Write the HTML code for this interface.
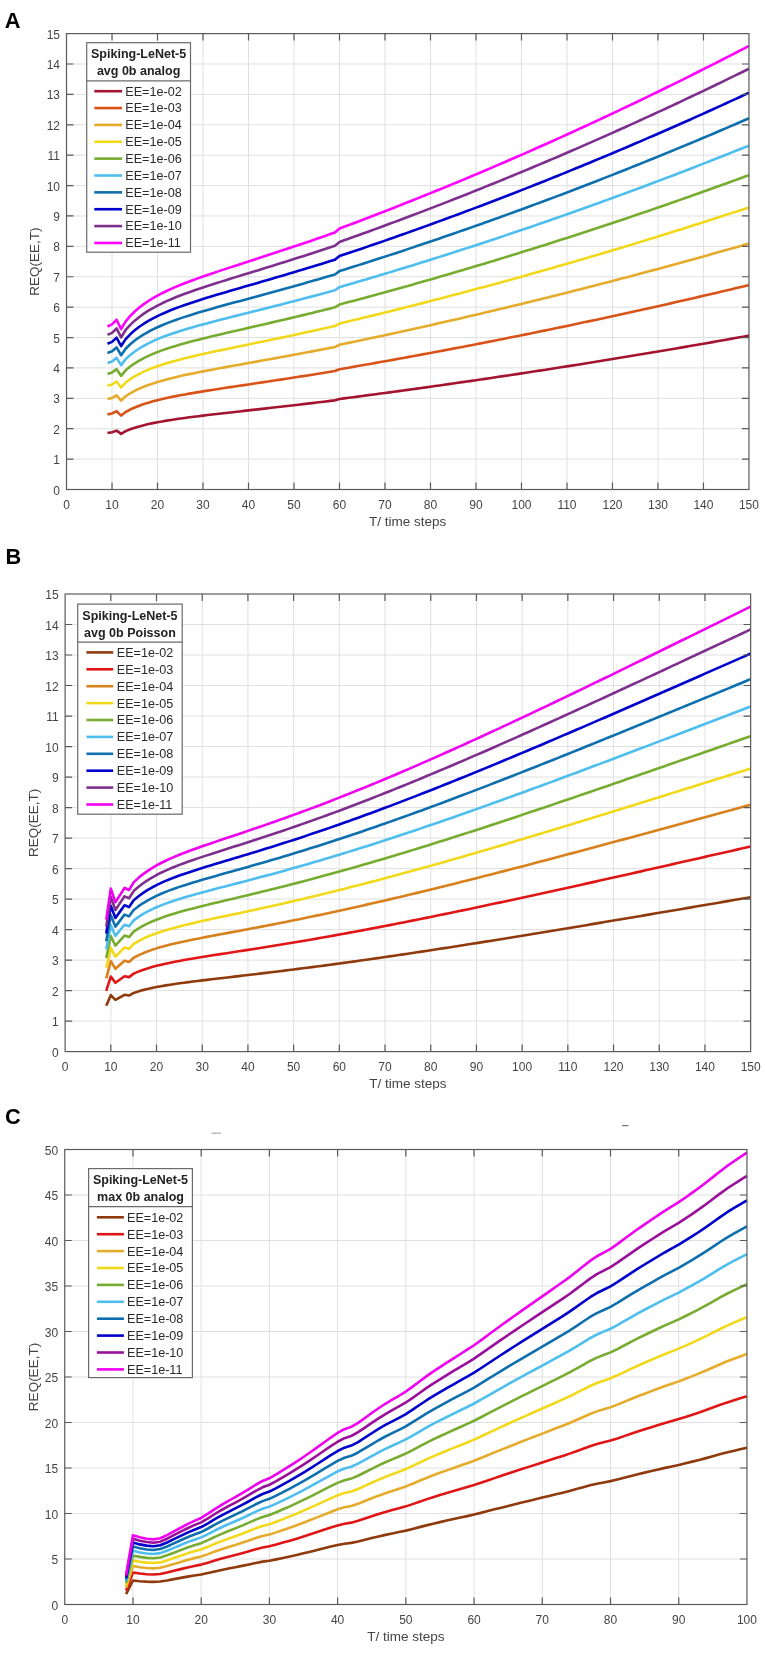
<!DOCTYPE html>
<html><head><meta charset="utf-8"><title>REQ(EE,T)</title>
<style>
html,body{margin:0;padding:0;background:#fff;}
body{width:765px;height:1653px;overflow:hidden;}
svg{display:block;filter:blur(0.4px);}
text{font-family:"Liberation Sans", sans-serif;}
.tk{font-size:12px;fill:#444444;}
.al{font-size:13.5px;fill:#444444;}
.lt{font-size:12.5px;font-weight:bold;fill:#222;}
.le{font-size:12.6px;fill:#2a2a2a;}
.pl{font-size:21.8px;font-weight:bold;fill:#000;}
</style></head>
<body>
<svg width="765" height="1653" viewBox="0 0 765 1653">
<rect width="765" height="1653" fill="#fff"/>
<path d="M112.02 33.6V489.5M157.51 33.6V489.5M203.01 33.6V489.5M248.5 33.6V489.5M294 33.6V489.5M339.5 33.6V489.5M384.99 33.6V489.5M430.49 33.6V489.5M475.98 33.6V489.5M521.48 33.6V489.5M566.98 33.6V489.5M612.47 33.6V489.5M657.97 33.6V489.5M703.46 33.6V489.5M66.52 459.11H748.96M66.52 428.71H748.96M66.52 398.32H748.96M66.52 367.93H748.96M66.52 337.53H748.96M66.52 307.14H748.96M66.52 276.75H748.96M66.52 246.35H748.96M66.52 215.96H748.96M66.52 185.57H748.96M66.52 155.17H748.96M66.52 124.78H748.96M66.52 94.39H748.96M66.52 63.99H748.96" stroke="#e0e0e0" stroke-width="1" fill="none"/>
<polyline points="107.47,432.94 112.02,432.23 116.57,430.6 121.12,433.86 125.66,431.17 130.21,429.31 134.76,427.76 139.31,426.4 143.86,425.19 148.41,424.11 152.96,423.13 157.51,422.23 162.06,421.41 166.61,420.63 171.16,419.91 175.71,419.22 180.26,418.56 184.81,417.94 189.36,417.33 193.91,416.75 198.46,416.18 203.01,415.62 207.56,415.07 212.11,414.54 216.66,414 221.21,413.48 225.76,412.96 230.31,412.44 234.86,411.93 239.4,411.42 243.95,410.91 248.5,410.4 253.05,409.88 257.6,409.37 262.15,408.86 266.7,408.35 271.25,407.83 275.8,407.31 280.35,406.79 284.9,406.27 289.45,405.75 294,405.22 298.55,404.69 303.1,404.16 307.65,403.63 312.2,403.09 316.75,402.55 321.3,402 325.85,401.45 330.4,400.9 334.95,400.35 339.5,398.97 344.05,398.38 348.6,397.79 353.14,397.2 357.69,396.6 362.24,396 366.79,395.4 371.34,394.79 375.89,394.19 380.44,393.58 384.99,392.96 389.54,392.35 394.09,391.73 398.64,391.11 403.19,390.49 407.74,389.86 412.29,389.24 416.84,388.61 421.39,387.97 425.94,387.34 430.49,386.7 435.04,386.06 439.59,385.42 444.14,384.77 448.69,384.12 453.24,383.47 457.79,382.82 462.34,382.16 466.88,381.5 471.43,380.84 475.98,380.18 480.53,379.51 485.08,378.84 489.63,378.17 494.18,377.5 498.73,376.82 503.28,376.14 507.83,375.46 512.38,374.78 516.93,374.09 521.48,373.4 526.03,372.71 530.58,372.01 535.13,371.31 539.68,370.62 544.23,369.91 548.78,369.21 553.33,368.5 557.88,367.79 562.43,367.08 566.98,366.36 571.53,365.64 576.08,364.92 580.62,364.2 585.17,363.47 589.72,362.75 594.27,362.02 598.82,361.28 603.37,360.55 607.92,359.81 612.47,359.07 617.02,358.32 621.57,357.58 626.12,356.83 630.67,356.08 635.22,355.32 639.77,354.57 644.32,353.81 648.87,353.04 653.42,352.28 657.97,351.51 662.52,350.74 667.07,349.97 671.62,349.2 676.17,348.42 680.72,347.64 685.27,346.86 689.82,346.07 694.36,345.28 698.91,344.49 703.46,343.7 708.01,342.91 712.56,342.11 717.11,341.31 721.66,340.51 726.21,339.7 730.76,338.89 735.31,338.08 739.86,337.27 744.41,336.45 748.96,335.63" fill="none" stroke="#a2142f" stroke-width="2.6" stroke-linejoin="round" stroke-linecap="butt"/>
<polyline points="107.47,414.36 112.02,413.42 116.57,411.26 121.12,415.58 125.66,412.01 130.21,409.54 134.76,407.48 139.31,405.68 143.86,404.07 148.41,402.64 152.96,401.34 157.51,400.15 162.06,399.05 166.61,398.02 171.16,397.05 175.71,396.14 180.26,395.27 184.81,394.44 189.36,393.63 193.91,392.86 198.46,392.1 203.01,391.36 207.56,390.63 212.11,389.92 216.66,389.21 221.21,388.52 225.76,387.83 230.31,387.14 234.86,386.46 239.4,385.78 243.95,385.1 248.5,384.42 253.05,383.74 257.6,383.06 262.15,382.38 266.7,381.7 271.25,381.01 275.8,380.33 280.35,379.64 284.9,378.94 289.45,378.25 294,377.55 298.55,376.84 303.1,376.14 307.65,375.43 312.2,374.71 316.75,373.99 321.3,373.27 325.85,372.54 330.4,371.81 334.95,371.07 339.5,369.24 344.05,368.46 348.6,367.67 353.14,366.89 357.69,366.09 362.24,365.3 366.79,364.5 371.34,363.69 375.89,362.89 380.44,362.08 384.99,361.26 389.54,360.45 394.09,359.63 398.64,358.8 403.19,357.98 407.74,357.15 412.29,356.31 416.84,355.48 421.39,354.64 425.94,353.79 430.49,352.94 435.04,352.09 439.59,351.24 444.14,350.38 448.69,349.52 453.24,348.65 457.79,347.79 462.34,346.92 466.88,346.04 471.43,345.16 475.98,344.28 480.53,343.4 485.08,342.51 489.63,341.61 494.18,340.72 498.73,339.82 503.28,338.92 507.83,338.01 512.38,337.1 516.93,336.19 521.48,335.27 526.03,334.36 530.58,333.43 535.13,332.51 539.68,331.58 544.23,330.64 548.78,329.71 553.33,328.77 557.88,327.82 562.43,326.88 566.98,325.93 571.53,324.97 576.08,324.02 580.62,323.05 585.17,322.09 589.72,321.12 594.27,320.15 598.82,319.18 603.37,318.2 607.92,317.22 612.47,316.23 617.02,315.25 621.57,314.26 626.12,313.26 630.67,312.26 635.22,311.26 639.77,310.26 644.32,309.25 648.87,308.24 653.42,307.22 657.97,306.2 662.52,305.18 667.07,304.15 671.62,303.12 676.17,302.09 680.72,301.06 685.27,300.02 689.82,298.97 694.36,297.93 698.91,296.88 703.46,295.83 708.01,294.77 712.56,293.71 717.11,292.65 721.66,291.58 726.21,290.51 730.76,289.44 735.31,288.36 739.86,287.28 744.41,286.19 748.96,285.11" fill="none" stroke="#d95319" stroke-width="2.6" stroke-linejoin="round" stroke-linecap="butt"/>
<polyline points="107.47,399.07 112.02,397.94 116.57,395.34 121.12,400.54 125.66,396.25 130.21,393.27 134.76,390.79 139.31,388.62 143.86,386.69 148.41,384.97 152.96,383.4 157.51,381.96 162.06,380.64 166.61,379.4 171.16,378.24 175.71,377.14 180.26,376.1 184.81,375.09 189.36,374.13 193.91,373.19 198.46,372.28 203.01,371.39 207.56,370.51 212.11,369.66 216.66,368.81 221.21,367.97 225.76,367.14 230.31,366.31 234.86,365.49 239.4,364.67 243.95,363.85 248.5,363.04 253.05,362.22 257.6,361.4 262.15,360.58 266.7,359.76 271.25,358.94 275.8,358.11 280.35,357.28 284.9,356.45 289.45,355.61 294,354.77 298.55,353.92 303.1,353.07 307.65,352.21 312.2,351.35 316.75,350.49 321.3,349.62 325.85,348.74 330.4,347.86 334.95,346.98 339.5,344.77 344.05,343.83 348.6,342.89 353.14,341.94 357.69,340.98 362.24,340.02 366.79,339.06 371.34,338.09 375.89,337.12 380.44,336.15 384.99,335.17 389.54,334.19 394.09,333.2 398.64,332.21 403.19,331.21 407.74,330.22 412.29,329.21 416.84,328.2 421.39,327.19 425.94,326.18 430.49,325.16 435.04,324.13 439.59,323.1 444.14,322.07 448.69,321.04 453.24,320 457.79,318.95 462.34,317.9 466.88,316.85 471.43,315.79 475.98,314.73 480.53,313.67 485.08,312.6 489.63,311.52 494.18,310.44 498.73,309.36 503.28,308.28 507.83,307.19 512.38,306.09 516.93,304.99 521.48,303.89 526.03,302.79 530.58,301.68 535.13,300.56 539.68,299.44 544.23,298.32 548.78,297.19 553.33,296.06 557.88,294.92 562.43,293.79 566.98,292.64 571.53,291.49 576.08,290.34 580.62,289.19 585.17,288.03 589.72,286.86 594.27,285.69 598.82,284.52 603.37,283.34 607.92,282.16 612.47,280.98 617.02,279.79 621.57,278.6 626.12,277.4 630.67,276.2 635.22,274.99 639.77,273.78 644.32,272.57 648.87,271.35 653.42,270.13 657.97,268.9 662.52,267.67 667.07,266.44 671.62,265.2 676.17,263.96 680.72,262.71 685.27,261.46 689.82,260.21 694.36,258.95 698.91,257.68 703.46,256.42 708.01,255.14 712.56,253.87 717.11,252.59 721.66,251.31 726.21,250.02 730.76,248.73 735.31,247.43 739.86,246.13 744.41,244.82 748.96,243.52" fill="none" stroke="#e5ab2b" stroke-width="2.6" stroke-linejoin="round" stroke-linecap="butt"/>
<polyline points="107.47,385.8 112.02,384.5 116.57,381.52 121.12,387.49 125.66,382.56 130.21,379.14 134.76,376.3 139.31,373.81 143.86,371.6 148.41,369.62 152.96,367.82 157.51,366.18 162.06,364.66 166.61,363.24 171.16,361.91 175.71,360.65 180.26,359.45 184.81,358.3 189.36,357.19 193.91,356.12 198.46,355.07 203.01,354.05 207.56,353.05 212.11,352.06 216.66,351.09 221.21,350.13 225.76,349.18 230.31,348.23 234.86,347.29 239.4,346.35 243.95,345.41 248.5,344.47 253.05,343.54 257.6,342.6 262.15,341.66 266.7,340.72 271.25,339.77 275.8,338.83 280.35,337.87 284.9,336.92 289.45,335.96 294,334.99 298.55,334.02 303.1,333.04 307.65,332.06 312.2,331.08 316.75,330.08 321.3,329.08 325.85,328.08 330.4,327.07 334.95,326.05 339.5,323.53 344.05,322.45 348.6,321.36 353.14,320.27 357.69,319.18 362.24,318.08 366.79,316.98 371.34,315.87 375.89,314.76 380.44,313.64 384.99,312.52 389.54,311.39 394.09,310.26 398.64,309.12 403.19,307.98 407.74,306.83 412.29,305.68 416.84,304.53 421.39,303.37 425.94,302.2 430.49,301.03 435.04,299.86 439.59,298.68 444.14,297.5 448.69,296.31 453.24,295.11 457.79,293.92 462.34,292.71 466.88,291.51 471.43,290.29 475.98,289.08 480.53,287.86 485.08,286.63 489.63,285.4 494.18,284.16 498.73,282.92 503.28,281.68 507.83,280.43 512.38,279.17 516.93,277.91 521.48,276.65 526.03,275.38 530.58,274.1 535.13,272.83 539.68,271.54 544.23,270.26 548.78,268.96 553.33,267.67 557.88,266.36 562.43,265.06 566.98,263.75 571.53,262.43 576.08,261.11 580.62,259.78 585.17,258.45 589.72,257.12 594.27,255.78 598.82,254.43 603.37,253.08 607.92,251.73 612.47,250.37 617.02,249.01 621.57,247.64 626.12,246.27 630.67,244.89 635.22,243.51 639.77,242.12 644.32,240.73 648.87,239.33 653.42,237.93 657.97,236.52 662.52,235.11 667.07,233.7 671.62,232.28 676.17,230.85 680.72,229.42 685.27,227.99 689.82,226.55 694.36,225.1 698.91,223.66 703.46,222.2 708.01,220.74 712.56,219.28 717.11,217.81 721.66,216.34 726.21,214.86 730.76,213.38 735.31,211.9 739.86,210.41 744.41,208.91 748.96,207.41" fill="none" stroke="#f1d91a" stroke-width="2.6" stroke-linejoin="round" stroke-linecap="butt"/>
<polyline points="107.47,373.92 112.02,372.48 116.57,369.16 121.12,375.8 125.66,370.31 130.21,366.5 134.76,363.33 139.31,360.56 143.86,358.1 148.41,355.89 152.96,353.89 157.51,352.06 162.06,350.36 166.61,348.78 171.16,347.3 175.71,345.89 180.26,344.56 184.81,343.27 189.36,342.04 193.91,340.84 198.46,339.68 203.01,338.54 207.56,337.42 212.11,336.32 216.66,335.24 221.21,334.17 225.76,333.1 230.31,332.05 234.86,331 239.4,329.95 243.95,328.91 248.5,327.86 253.05,326.82 257.6,325.77 262.15,324.73 266.7,323.68 271.25,322.62 275.8,321.57 280.35,320.51 284.9,319.44 289.45,318.37 294,317.29 298.55,316.21 303.1,315.12 307.65,314.03 312.2,312.93 316.75,311.82 321.3,310.71 325.85,309.59 330.4,308.47 334.95,307.33 339.5,304.52 344.05,303.31 348.6,302.11 353.14,300.89 357.69,299.67 362.24,298.45 366.79,297.22 371.34,295.98 375.89,294.74 380.44,293.5 384.99,292.25 389.54,290.99 394.09,289.73 398.64,288.46 403.19,287.19 407.74,285.91 412.29,284.63 416.84,283.34 421.39,282.05 425.94,280.75 430.49,279.45 435.04,278.14 439.59,276.82 444.14,275.5 448.69,274.18 453.24,272.85 457.79,271.51 462.34,270.17 466.88,268.83 471.43,267.48 475.98,266.12 480.53,264.76 485.08,263.39 489.63,262.02 494.18,260.64 498.73,259.26 503.28,257.87 507.83,256.48 512.38,255.08 516.93,253.68 521.48,252.27 526.03,250.85 530.58,249.43 535.13,248.01 539.68,246.58 544.23,245.14 548.78,243.7 553.33,242.26 557.88,240.81 562.43,239.35 566.98,237.89 571.53,236.42 576.08,234.95 580.62,233.47 585.17,231.99 589.72,230.5 594.27,229.01 598.82,227.51 603.37,226 607.92,224.5 612.47,222.98 617.02,221.46 621.57,219.94 626.12,218.41 630.67,216.87 635.22,215.33 639.77,213.78 644.32,212.23 648.87,210.68 653.42,209.11 657.97,207.55 662.52,205.97 667.07,204.4 671.62,202.81 676.17,201.23 680.72,199.63 685.27,198.03 689.82,196.43 694.36,194.82 698.91,193.21 703.46,191.59 708.01,189.96 712.56,188.33 717.11,186.7 721.66,185.05 726.21,183.41 730.76,181.76 735.31,180.1 739.86,178.44 744.41,176.77 748.96,175.1" fill="none" stroke="#77ac30" stroke-width="2.6" stroke-linejoin="round" stroke-linecap="butt"/>
<polyline points="107.47,363.08 112.02,361.5 116.57,357.87 121.12,365.14 125.66,359.13 130.21,354.97 134.76,351.5 139.31,348.46 143.86,345.77 148.41,343.36 152.96,341.17 157.51,339.16 162.06,337.31 166.61,335.58 171.16,333.96 175.71,332.42 180.26,330.96 184.81,329.56 189.36,328.2 193.91,326.9 198.46,325.62 203.01,324.38 207.56,323.15 212.11,321.95 216.66,320.77 221.21,319.6 225.76,318.43 230.31,317.28 234.86,316.13 239.4,314.98 243.95,313.84 248.5,312.7 253.05,311.56 257.6,310.42 262.15,309.27 266.7,308.12 271.25,306.97 275.8,305.81 280.35,304.65 284.9,303.49 289.45,302.32 294,301.14 298.55,299.96 303.1,298.77 307.65,297.57 312.2,296.37 316.75,295.16 321.3,293.94 325.85,292.72 330.4,291.48 334.95,290.24 339.5,287.17 344.05,285.85 348.6,284.53 353.14,283.2 357.69,281.87 362.24,280.53 366.79,279.18 371.34,277.83 375.89,276.47 380.44,275.11 384.99,273.74 389.54,272.37 394.09,270.99 398.64,269.6 403.19,268.21 407.74,266.81 412.29,265.41 416.84,264 421.39,262.59 425.94,261.17 430.49,259.74 435.04,258.31 439.59,256.87 444.14,255.43 448.69,253.98 453.24,252.53 457.79,251.07 462.34,249.6 466.88,248.13 471.43,246.65 475.98,245.17 480.53,243.68 485.08,242.18 489.63,240.68 494.18,239.17 498.73,237.66 503.28,236.14 507.83,234.62 512.38,233.09 516.93,231.55 521.48,230.01 526.03,228.47 530.58,226.91 535.13,225.36 539.68,223.79 544.23,222.22 548.78,220.65 553.33,219.06 557.88,217.48 562.43,215.88 566.98,214.28 571.53,212.68 576.08,211.07 580.62,209.45 585.17,207.83 589.72,206.2 594.27,204.57 598.82,202.93 603.37,201.29 607.92,199.64 612.47,197.98 617.02,196.32 621.57,194.65 626.12,192.98 630.67,191.3 635.22,189.61 639.77,187.92 644.32,186.22 648.87,184.52 653.42,182.81 657.97,181.1 662.52,179.38 667.07,177.65 671.62,175.92 676.17,174.18 680.72,172.44 685.27,170.69 689.82,168.94 694.36,167.18 698.91,165.41 703.46,163.64 708.01,161.86 712.56,160.08 717.11,158.29 721.66,156.5 726.21,154.69 730.76,152.89 735.31,151.08 739.86,149.26 744.41,147.43 748.96,145.61" fill="none" stroke="#4dbeee" stroke-width="2.6" stroke-linejoin="round" stroke-linecap="butt"/>
<polyline points="107.47,353.05 112.02,351.34 116.57,347.42 121.12,355.26 125.66,348.78 130.21,344.29 134.76,340.55 139.31,337.27 143.86,334.36 148.41,331.76 152.96,329.39 157.51,327.23 162.06,325.23 166.61,323.36 171.16,321.61 175.71,319.95 180.26,318.38 184.81,316.86 189.36,315.4 193.91,313.99 198.46,312.61 203.01,311.27 207.56,309.95 212.11,308.65 216.66,307.37 221.21,306.11 225.76,304.85 230.31,303.61 234.86,302.37 239.4,301.13 243.95,299.9 248.5,298.67 253.05,297.43 257.6,296.2 262.15,294.96 266.7,293.72 271.25,292.48 275.8,291.23 280.35,289.98 284.9,288.72 289.45,287.46 294,286.19 298.55,284.91 303.1,283.63 307.65,282.34 312.2,281.04 316.75,279.73 321.3,278.42 325.85,277.1 330.4,275.77 334.95,274.43 339.5,271.11 344.05,269.68 348.6,268.26 353.14,266.82 357.69,265.38 362.24,263.94 366.79,262.49 371.34,261.03 375.89,259.56 380.44,258.09 384.99,256.62 389.54,255.13 394.09,253.64 398.64,252.15 403.19,250.65 407.74,249.14 412.29,247.62 416.84,246.1 421.39,244.58 425.94,243.04 430.49,241.51 435.04,239.96 439.59,238.41 444.14,236.85 448.69,235.29 453.24,233.72 457.79,232.14 462.34,230.56 466.88,228.97 471.43,227.37 475.98,225.77 480.53,224.16 485.08,222.55 489.63,220.93 494.18,219.3 498.73,217.67 503.28,216.03 507.83,214.39 512.38,212.74 516.93,211.08 521.48,209.42 526.03,207.75 530.58,206.07 535.13,204.39 539.68,202.7 544.23,201.01 548.78,199.3 553.33,197.6 557.88,195.88 562.43,194.16 566.98,192.44 571.53,190.71 576.08,188.97 580.62,187.22 585.17,185.47 589.72,183.72 594.27,181.95 598.82,180.18 603.37,178.41 607.92,176.63 612.47,174.84 617.02,173.05 621.57,171.25 626.12,169.44 630.67,167.63 635.22,165.81 639.77,163.98 644.32,162.15 648.87,160.31 653.42,158.47 657.97,156.62 662.52,154.76 667.07,152.9 671.62,151.03 676.17,149.16 680.72,147.27 685.27,145.39 689.82,143.49 694.36,141.59 698.91,139.69 703.46,137.77 708.01,135.86 712.56,133.93 717.11,132 721.66,130.06 726.21,128.12 730.76,126.17 735.31,124.21 739.86,122.25 744.41,120.28 748.96,118.31" fill="none" stroke="#0e6fae" stroke-width="2.6" stroke-linejoin="round" stroke-linecap="butt"/>
<polyline points="107.47,343.67 112.02,341.84 116.57,337.65 121.12,346.04 125.66,339.11 130.21,334.31 134.76,330.31 139.31,326.8 143.86,323.7 148.41,320.91 152.96,318.39 157.51,316.07 162.06,313.94 166.61,311.94 171.16,310.07 175.71,308.3 180.26,306.61 184.81,304.99 189.36,303.43 193.91,301.92 198.46,300.45 203.01,299.02 207.56,297.61 212.11,296.22 216.66,294.85 221.21,293.5 225.76,292.16 230.31,290.83 234.86,289.5 239.4,288.18 243.95,286.87 248.5,285.55 253.05,284.23 257.6,282.91 262.15,281.59 266.7,280.27 271.25,278.94 275.8,277.6 280.35,276.26 284.9,274.92 289.45,273.57 294,272.21 298.55,270.85 303.1,269.47 307.65,268.09 312.2,266.71 316.75,265.31 321.3,263.91 325.85,262.49 330.4,261.07 334.95,259.64 339.5,256.09 344.05,254.57 348.6,253.05 353.14,251.52 357.69,249.98 362.24,248.43 366.79,246.88 371.34,245.32 375.89,243.76 380.44,242.18 384.99,240.61 389.54,239.02 394.09,237.43 398.64,235.83 403.19,234.23 407.74,232.61 412.29,231 416.84,229.37 421.39,227.74 425.94,226.1 430.49,224.46 435.04,222.81 439.59,221.15 444.14,219.48 448.69,217.81 453.24,216.13 457.79,214.45 462.34,212.76 466.88,211.06 471.43,209.35 475.98,207.64 480.53,205.92 485.08,204.2 489.63,202.47 494.18,200.73 498.73,198.99 503.28,197.23 507.83,195.48 512.38,193.71 516.93,191.94 521.48,190.16 526.03,188.38 530.58,186.59 535.13,184.79 539.68,182.98 544.23,181.17 548.78,179.36 553.33,177.53 557.88,175.7 562.43,173.86 566.98,172.02 571.53,170.17 576.08,168.31 580.62,166.44 585.17,164.57 589.72,162.7 594.27,160.81 598.82,158.92 603.37,157.02 607.92,155.12 612.47,153.21 617.02,151.29 621.57,149.37 626.12,147.44 630.67,145.5 635.22,143.55 639.77,141.6 644.32,139.65 648.87,137.68 653.42,135.71 657.97,133.73 662.52,131.75 667.07,129.76 671.62,127.76 676.17,125.76 680.72,123.75 685.27,121.73 689.82,119.71 694.36,117.68 698.91,115.64 703.46,113.59 708.01,111.54 712.56,109.49 717.11,107.42 721.66,105.35 726.21,103.28 730.76,101.19 735.31,99.1 739.86,97 744.41,94.9 748.96,92.79" fill="none" stroke="#0000cc" stroke-width="2.6" stroke-linejoin="round" stroke-linecap="butt"/>
<polyline points="107.47,334.83 112.02,332.89 116.57,328.45 121.12,337.34 125.66,329.99 130.21,324.9 134.76,320.66 139.31,316.94 143.86,313.65 148.41,310.69 152.96,308.02 157.51,305.56 162.06,303.3 166.61,301.18 171.16,299.2 175.71,297.32 180.26,295.53 184.81,293.81 189.36,292.16 193.91,290.55 198.46,289 203.01,287.47 207.56,285.98 212.11,284.51 216.66,283.06 221.21,281.62 225.76,280.2 230.31,278.79 234.86,277.38 239.4,275.98 243.95,274.58 248.5,273.19 253.05,271.79 257.6,270.39 262.15,268.99 266.7,267.59 271.25,266.18 275.8,264.76 280.35,263.34 284.9,261.92 289.45,260.48 294,259.04 298.55,257.59 303.1,256.14 307.65,254.68 312.2,253.2 316.75,251.72 321.3,250.23 325.85,248.74 330.4,247.23 334.95,245.71 339.5,241.95 344.05,240.34 348.6,238.72 353.14,237.09 357.69,235.46 362.24,233.82 366.79,232.18 371.34,230.52 375.89,228.86 380.44,227.2 384.99,225.52 389.54,223.84 394.09,222.15 398.64,220.46 403.19,218.76 407.74,217.05 412.29,215.33 416.84,213.61 421.39,211.88 425.94,210.14 430.49,208.39 435.04,206.64 439.59,204.88 444.14,203.12 448.69,201.34 453.24,199.56 457.79,197.78 462.34,195.98 466.88,194.18 471.43,192.37 475.98,190.56 480.53,188.74 485.08,186.91 489.63,185.07 494.18,183.23 498.73,181.38 503.28,179.52 507.83,177.66 512.38,175.78 516.93,173.91 521.48,172.02 526.03,170.13 530.58,168.23 535.13,166.32 539.68,164.41 544.23,162.49 548.78,160.56 553.33,158.62 557.88,156.68 562.43,154.73 566.98,152.78 571.53,150.81 576.08,148.84 580.62,146.87 585.17,144.88 589.72,142.89 594.27,140.89 598.82,138.89 603.37,136.87 607.92,134.85 612.47,132.83 617.02,130.79 621.57,128.75 626.12,126.7 630.67,124.65 635.22,122.59 639.77,120.52 644.32,118.44 648.87,116.36 653.42,114.27 657.97,112.17 662.52,110.07 667.07,107.96 671.62,105.84 676.17,103.71 680.72,101.58 685.27,99.44 689.82,97.29 694.36,95.14 698.91,92.98 703.46,90.81 708.01,88.64 712.56,86.46 717.11,84.27 721.66,82.07 726.21,79.87 730.76,77.66 735.31,75.44 739.86,73.22 744.41,70.99 748.96,68.75" fill="none" stroke="#7e2f8e" stroke-width="2.6" stroke-linejoin="round" stroke-linecap="butt"/>
<polyline points="107.47,326.45 112.02,324.41 116.57,319.72 121.12,329.1 125.66,321.35 130.21,315.98 134.76,311.51 139.31,307.59 143.86,304.12 148.41,301.01 152.96,298.18 157.51,295.6 162.06,293.21 166.61,290.98 171.16,288.88 175.71,286.9 180.26,285.02 184.81,283.21 189.36,281.46 193.91,279.77 198.46,278.13 203.01,276.52 207.56,274.95 212.11,273.4 216.66,271.87 221.21,270.36 225.76,268.86 230.31,267.37 234.86,265.89 239.4,264.41 243.95,262.94 248.5,261.47 253.05,259.99 257.6,258.52 262.15,257.04 266.7,255.56 271.25,254.07 275.8,252.58 280.35,251.09 284.9,249.58 289.45,248.07 294,246.55 298.55,245.03 303.1,243.49 307.65,241.95 312.2,240.4 316.75,238.84 321.3,237.27 325.85,235.69 330.4,234.1 334.95,232.5 339.5,228.53 344.05,226.83 348.6,225.13 353.14,223.42 357.69,221.7 362.24,219.97 366.79,218.23 371.34,216.49 375.89,214.74 380.44,212.98 384.99,211.22 389.54,209.45 394.09,207.67 398.64,205.88 403.19,204.08 407.74,202.28 412.29,200.47 416.84,198.66 421.39,196.83 425.94,195 430.49,193.16 435.04,191.31 439.59,189.46 444.14,187.6 448.69,185.73 453.24,183.85 457.79,181.97 462.34,180.08 466.88,178.18 471.43,176.27 475.98,174.36 480.53,172.44 485.08,170.51 489.63,168.58 494.18,166.63 498.73,164.68 503.28,162.72 507.83,160.76 512.38,158.79 516.93,156.81 521.48,154.82 526.03,152.82 530.58,150.82 535.13,148.81 539.68,146.79 544.23,144.77 548.78,142.73 553.33,140.69 557.88,138.65 562.43,136.59 566.98,134.53 571.53,132.46 576.08,130.38 580.62,128.3 585.17,126.21 589.72,124.11 594.27,122 598.82,119.89 603.37,117.77 607.92,115.64 612.47,113.5 617.02,111.36 621.57,109.2 626.12,107.05 630.67,104.88 635.22,102.71 639.77,100.52 644.32,98.34 648.87,96.14 653.42,93.94 657.97,91.73 662.52,89.51 667.07,87.28 671.62,85.05 676.17,82.81 680.72,80.56 685.27,78.31 689.82,76.04 694.36,73.77 698.91,71.49 703.46,69.21 708.01,66.92 712.56,64.62 717.11,62.31 721.66,59.99 726.21,57.67 730.76,55.34 735.31,53.01 739.86,50.66 744.41,48.31 748.96,45.95" fill="none" stroke="#ff00ff" stroke-width="2.6" stroke-linejoin="round" stroke-linecap="butt"/>
<rect x="66.52" y="33.6" width="682.44" height="455.9" fill="none" stroke="#5a5a5a" stroke-width="1.2"/>
<path d="M112.02 489.5v-7M112.02 33.6v7M157.51 489.5v-7M157.51 33.6v7M203.01 489.5v-7M203.01 33.6v7M248.5 489.5v-7M248.5 33.6v7M294 489.5v-7M294 33.6v7M339.5 489.5v-7M339.5 33.6v7M384.99 489.5v-7M384.99 33.6v7M430.49 489.5v-7M430.49 33.6v7M475.98 489.5v-7M475.98 33.6v7M521.48 489.5v-7M521.48 33.6v7M566.98 489.5v-7M566.98 33.6v7M612.47 489.5v-7M612.47 33.6v7M657.97 489.5v-7M657.97 33.6v7M703.46 489.5v-7M703.46 33.6v7M66.52 459.11h7M748.96 459.11h-7M66.52 428.71h7M748.96 428.71h-7M66.52 398.32h7M748.96 398.32h-7M66.52 367.93h7M748.96 367.93h-7M66.52 337.53h7M748.96 337.53h-7M66.52 307.14h7M748.96 307.14h-7M66.52 276.75h7M748.96 276.75h-7M66.52 246.35h7M748.96 246.35h-7M66.52 215.96h7M748.96 215.96h-7M66.52 185.57h7M748.96 185.57h-7M66.52 155.17h7M748.96 155.17h-7M66.52 124.78h7M748.96 124.78h-7M66.52 94.39h7M748.96 94.39h-7M66.52 63.99h7M748.96 63.99h-7" stroke="#5a5a5a" stroke-width="1.2" fill="none"/>
<text x="66.52" y="509" text-anchor="middle" class="tk">0</text>
<text x="112.02" y="509" text-anchor="middle" class="tk">10</text>
<text x="157.51" y="509" text-anchor="middle" class="tk">20</text>
<text x="203.01" y="509" text-anchor="middle" class="tk">30</text>
<text x="248.5" y="509" text-anchor="middle" class="tk">40</text>
<text x="294" y="509" text-anchor="middle" class="tk">50</text>
<text x="339.5" y="509" text-anchor="middle" class="tk">60</text>
<text x="384.99" y="509" text-anchor="middle" class="tk">70</text>
<text x="430.49" y="509" text-anchor="middle" class="tk">80</text>
<text x="475.98" y="509" text-anchor="middle" class="tk">90</text>
<text x="521.48" y="509" text-anchor="middle" class="tk">100</text>
<text x="566.98" y="509" text-anchor="middle" class="tk">110</text>
<text x="612.47" y="509" text-anchor="middle" class="tk">120</text>
<text x="657.97" y="509" text-anchor="middle" class="tk">130</text>
<text x="703.46" y="509" text-anchor="middle" class="tk">140</text>
<text x="748.96" y="509" text-anchor="middle" class="tk">150</text>
<text x="60.02" y="494.6" text-anchor="end" class="tk">0</text>
<text x="60.02" y="464.21" text-anchor="end" class="tk">1</text>
<text x="60.02" y="433.81" text-anchor="end" class="tk">2</text>
<text x="60.02" y="403.42" text-anchor="end" class="tk">3</text>
<text x="60.02" y="373.03" text-anchor="end" class="tk">4</text>
<text x="60.02" y="342.63" text-anchor="end" class="tk">5</text>
<text x="60.02" y="312.24" text-anchor="end" class="tk">6</text>
<text x="60.02" y="281.85" text-anchor="end" class="tk">7</text>
<text x="60.02" y="251.45" text-anchor="end" class="tk">8</text>
<text x="60.02" y="221.06" text-anchor="end" class="tk">9</text>
<text x="60.02" y="190.67" text-anchor="end" class="tk">10</text>
<text x="60.02" y="160.27" text-anchor="end" class="tk">11</text>
<text x="60.02" y="129.88" text-anchor="end" class="tk">12</text>
<text x="60.02" y="99.49" text-anchor="end" class="tk">13</text>
<text x="60.02" y="69.09" text-anchor="end" class="tk">14</text>
<text x="60.02" y="38.7" text-anchor="end" class="tk">15</text>
<text x="407.74" y="526" text-anchor="middle" class="al">T/ time steps</text>
<text transform="translate(39.4 261.55) rotate(-90)" text-anchor="middle" class="al">REQ(EE,T)</text>
<rect x="86.7" y="42.7" width="103.8" height="209.5" fill="#fff" stroke="#6a6a6a" stroke-width="1.2"/>
<path d="M86.7 80.8H190.5" stroke="#6a6a6a" stroke-width="1.2"/>
<text x="138.6" y="57.7" text-anchor="middle" class="lt">Spiking-LeNet-5</text>
<text x="138.6" y="74.7" text-anchor="middle" class="lt">avg 0b analog</text>
<path d="M94.3 91.2H122.1" stroke="#a2142f" stroke-width="2.6"/>
<text x="125.3" y="95.6" class="le">EE=1e-02</text>
<path d="M94.3 108.06H122.1" stroke="#d95319" stroke-width="2.6"/>
<text x="125.3" y="112.46" class="le">EE=1e-03</text>
<path d="M94.3 124.92H122.1" stroke="#e5ab2b" stroke-width="2.6"/>
<text x="125.3" y="129.32" class="le">EE=1e-04</text>
<path d="M94.3 141.78H122.1" stroke="#f1d91a" stroke-width="2.6"/>
<text x="125.3" y="146.18" class="le">EE=1e-05</text>
<path d="M94.3 158.64H122.1" stroke="#77ac30" stroke-width="2.6"/>
<text x="125.3" y="163.04" class="le">EE=1e-06</text>
<path d="M94.3 175.5H122.1" stroke="#4dbeee" stroke-width="2.6"/>
<text x="125.3" y="179.9" class="le">EE=1e-07</text>
<path d="M94.3 192.36H122.1" stroke="#0e6fae" stroke-width="2.6"/>
<text x="125.3" y="196.76" class="le">EE=1e-08</text>
<path d="M94.3 209.22H122.1" stroke="#0000cc" stroke-width="2.6"/>
<text x="125.3" y="213.62" class="le">EE=1e-09</text>
<path d="M94.3 226.08H122.1" stroke="#7e2f8e" stroke-width="2.6"/>
<text x="125.3" y="230.48" class="le">EE=1e-10</text>
<path d="M94.3 242.94H122.1" stroke="#ff00ff" stroke-width="2.6"/>
<text x="125.3" y="247.34" class="le">EE=1e-11</text>
<text x="4.8" y="27.8" class="pl">A</text>
<path d="M110.82 594V1051.6M156.52 594V1051.6M202.23 594V1051.6M247.93 594V1051.6M293.63 594V1051.6M339.33 594V1051.6M385.03 594V1051.6M430.74 594V1051.6M476.44 594V1051.6M522.14 594V1051.6M567.84 594V1051.6M613.54 594V1051.6M659.25 594V1051.6M704.95 594V1051.6M65.12 1021.09H750.65M65.12 990.59H750.65M65.12 960.08H750.65M65.12 929.57H750.65M65.12 899.07H750.65M65.12 868.56H750.65M65.12 838.05H750.65M65.12 807.55H750.65M65.12 777.04H750.65M65.12 746.53H750.65M65.12 716.03H750.65M65.12 685.52H750.65M65.12 655.01H750.65M65.12 624.51H750.65" stroke="#e0e0e0" stroke-width="1" fill="none"/>
<polyline points="106.25,1005.83 110.82,995.04 115.39,999.79 119.96,997.31 124.53,994.83 129.1,995.54 133.67,992.9 138.24,991.42 142.81,990.12 147.38,988.98 151.95,987.95 156.52,987.03 161.09,986.18 165.66,985.4 170.23,984.67 174.8,983.98 179.38,983.33 183.95,982.7 188.52,982.1 193.09,981.51 197.66,980.95 202.23,980.39 206.8,979.84 211.37,979.3 215.94,978.76 220.51,978.23 225.08,977.7 229.65,977.17 234.22,976.64 238.79,976.1 243.36,975.57 247.93,975.04 252.5,974.5 257.07,973.96 261.64,973.41 266.21,972.86 270.78,972.31 275.35,971.76 279.92,971.2 284.49,970.63 289.06,970.06 293.63,969.49 298.2,968.91 302.77,968.33 307.34,967.74 311.91,967.14 316.48,966.55 321.05,965.94 325.62,965.34 330.19,964.73 334.76,964.11 339.33,963.49 343.9,962.86 348.47,962.23 353.04,961.6 357.61,960.96 362.18,960.32 366.75,959.67 371.32,959.02 375.89,958.37 380.46,957.71 385.03,957.05 389.6,956.38 394.17,955.71 398.74,955.04 403.31,954.36 407.88,953.68 412.46,953 417.03,952.31 421.6,951.62 426.17,950.93 430.74,950.23 435.31,949.53 439.88,948.83 444.45,948.12 449.02,947.41 453.59,946.7 458.16,945.99 462.73,945.27 467.3,944.55 471.87,943.83 476.44,943.11 481.01,942.38 485.58,941.65 490.15,940.92 494.72,940.19 499.29,939.45 503.86,938.72 508.43,937.98 513,937.24 517.57,936.49 522.14,935.75 526.71,935 531.28,934.25 535.85,933.5 540.42,932.75 544.99,932 549.56,931.24 554.13,930.49 558.7,929.73 563.27,928.97 567.84,928.21 572.41,927.45 576.98,926.69 581.55,925.93 586.12,925.16 590.69,924.39 595.26,923.63 599.83,922.86 604.4,922.09 608.97,921.32 613.54,920.55 618.11,919.78 622.68,919.01 627.25,918.24 631.82,917.46 636.39,916.69 640.97,915.91 645.54,915.14 650.11,914.36 654.68,913.59 659.25,912.81 663.82,912.03 668.39,911.25 672.96,910.47 677.53,909.7 682.1,908.92 686.67,908.14 691.24,907.36 695.81,906.58 700.38,905.8 704.95,905.02 709.52,904.24 714.09,903.46 718.66,902.68 723.23,901.9 727.8,901.12 732.37,900.34 736.94,899.56 741.51,898.78 746.08,898 750.65,897.22" fill="none" stroke="#8f3a0c" stroke-width="2.6" stroke-linejoin="round" stroke-linecap="butt"/>
<polyline points="106.25,990.79 110.82,976.47 115.39,982.78 119.96,979.48 124.53,976.18 129.1,977.13 133.67,973.62 138.24,971.65 142.81,969.93 147.38,968.41 151.95,967.06 156.52,965.83 161.09,964.7 165.66,963.66 170.23,962.69 174.8,961.77 179.38,960.91 183.95,960.08 188.52,959.28 193.09,958.5 197.66,957.74 202.23,957 206.8,956.28 211.37,955.56 215.94,954.84 220.51,954.13 225.08,953.43 229.65,952.72 234.22,952.02 238.79,951.31 243.36,950.61 247.93,949.89 252.5,949.18 257.07,948.46 261.64,947.74 266.21,947.01 270.78,946.28 275.35,945.54 279.92,944.79 284.49,944.04 289.06,943.29 293.63,942.52 298.2,941.75 302.77,940.98 307.34,940.2 311.91,939.41 316.48,938.62 321.05,937.82 325.62,937.01 330.19,936.2 334.76,935.38 339.33,934.56 343.9,933.73 348.47,932.89 353.04,932.05 357.61,931.2 362.18,930.35 366.75,929.49 371.32,928.62 375.89,927.75 380.46,926.88 385.03,926 389.6,925.11 394.17,924.22 398.74,923.33 403.31,922.43 407.88,921.53 412.46,920.62 417.03,919.71 421.6,918.79 426.17,917.87 430.74,916.94 435.31,916.01 439.88,915.08 444.45,914.14 449.02,913.2 453.59,912.26 458.16,911.31 462.73,910.36 467.3,909.4 471.87,908.44 476.44,907.48 481.01,906.51 485.58,905.55 490.15,904.58 494.72,903.6 499.29,902.63 503.86,901.65 508.43,900.67 513,899.68 517.57,898.69 522.14,897.7 526.71,896.71 531.28,895.72 535.85,894.72 540.42,893.72 544.99,892.72 549.56,891.72 554.13,890.72 558.7,889.71 563.27,888.7 567.84,887.69 572.41,886.68 576.98,885.67 581.55,884.66 586.12,883.64 590.69,882.62 595.26,881.61 599.83,880.59 604.4,879.56 608.97,878.54 613.54,877.52 618.11,876.49 622.68,875.47 627.25,874.44 631.82,873.41 636.39,872.39 640.97,871.36 645.54,870.33 650.11,869.3 654.68,868.26 659.25,867.23 663.82,866.2 668.39,865.17 672.96,864.13 677.53,863.1 682.1,862.06 686.67,861.03 691.24,859.99 695.81,858.96 700.38,857.92 704.95,856.89 709.52,855.85 714.09,854.81 718.66,853.78 723.23,852.74 727.8,851.7 732.37,850.67 736.94,849.63 741.51,848.6 746.08,847.56 750.65,846.52" fill="none" stroke="#e01515" stroke-width="2.6" stroke-linejoin="round" stroke-linecap="butt"/>
<polyline points="106.25,978.42 110.82,961.18 115.39,968.78 119.96,964.81 124.53,960.84 129.1,961.97 133.67,957.75 138.24,955.39 142.81,953.32 147.38,951.49 151.95,949.85 156.52,948.37 161.09,947.02 165.66,945.76 170.23,944.6 174.8,943.5 179.38,942.45 183.95,941.45 188.52,940.49 193.09,939.56 197.66,938.65 202.23,937.76 206.8,936.88 211.37,936.01 215.94,935.15 220.51,934.3 225.08,933.45 229.65,932.6 234.22,931.76 238.79,930.91 243.36,930.05 247.93,929.2 252.5,928.34 257.07,927.47 261.64,926.6 266.21,925.73 270.78,924.85 275.35,923.96 279.92,923.06 284.49,922.16 289.06,921.25 293.63,920.33 298.2,919.4 302.77,918.47 307.34,917.53 311.91,916.58 316.48,915.63 321.05,914.66 325.62,913.69 330.19,912.72 334.76,911.73 339.33,910.74 343.9,909.74 348.47,908.73 353.04,907.72 357.61,906.7 362.18,905.67 366.75,904.64 371.32,903.6 375.89,902.55 380.46,901.5 385.03,900.44 389.6,899.38 394.17,898.31 398.74,897.23 403.31,896.15 407.88,895.06 412.46,893.97 417.03,892.87 421.6,891.76 426.17,890.65 430.74,889.54 435.31,888.42 439.88,887.3 444.45,886.17 449.02,885.04 453.59,883.9 458.16,882.76 462.73,881.61 467.3,880.46 471.87,879.31 476.44,878.15 481.01,876.99 485.58,875.83 490.15,874.66 494.72,873.49 499.29,872.31 503.86,871.13 508.43,869.95 513,868.77 517.57,867.58 522.14,866.39 526.71,865.2 531.28,864 535.85,862.8 540.42,861.6 544.99,860.4 549.56,859.19 554.13,857.98 558.7,856.77 563.27,855.56 567.84,854.34 572.41,853.13 576.98,851.91 581.55,850.69 586.12,849.46 590.69,848.24 595.26,847.01 599.83,845.79 604.4,844.56 608.97,843.33 613.54,842.1 618.11,840.86 622.68,839.63 627.25,838.39 631.82,837.16 636.39,835.92 640.97,834.68 645.54,833.44 650.11,832.2 654.68,830.96 659.25,829.72 663.82,828.47 668.39,827.23 672.96,825.99 677.53,824.74 682.1,823.5 686.67,822.25 691.24,821.01 695.81,819.76 700.38,818.51 704.95,817.27 709.52,816.02 714.09,814.77 718.66,813.52 723.23,812.28 727.8,811.03 732.37,809.78 736.94,808.53 741.51,807.29 746.08,806.04 750.65,804.79" fill="none" stroke="#d8801c" stroke-width="2.6" stroke-linejoin="round" stroke-linecap="butt"/>
<polyline points="106.25,967.68 110.82,947.9 115.39,956.62 119.96,952.07 124.53,947.51 129.1,948.81 133.67,943.98 138.24,941.26 142.81,938.89 147.38,936.79 151.95,934.92 156.52,933.22 161.09,931.67 165.66,930.23 170.23,928.89 174.8,927.63 179.38,926.43 183.95,925.28 188.52,924.18 193.09,923.11 197.66,922.07 202.23,921.04 206.8,920.04 211.37,919.05 215.94,918.06 220.51,917.08 225.08,916.11 229.65,915.14 234.22,914.16 238.79,913.19 243.36,912.21 247.93,911.23 252.5,910.25 257.07,909.25 261.64,908.26 266.21,907.25 270.78,906.24 275.35,905.22 279.92,904.19 284.49,903.16 289.06,902.11 293.63,901.06 298.2,900 302.77,898.93 307.34,897.85 311.91,896.76 316.48,895.67 321.05,894.56 325.62,893.45 330.19,892.33 334.76,891.2 339.33,890.06 343.9,888.92 348.47,887.76 353.04,886.6 357.61,885.43 362.18,884.25 366.75,883.07 371.32,881.88 375.89,880.68 380.46,879.47 385.03,878.25 389.6,877.03 394.17,875.8 398.74,874.57 403.31,873.33 407.88,872.08 412.46,870.83 417.03,869.57 421.6,868.3 426.17,867.03 430.74,865.75 435.31,864.47 439.88,863.18 444.45,861.89 449.02,860.59 453.59,859.29 458.16,857.98 462.73,856.66 467.3,855.34 471.87,854.02 476.44,852.69 481.01,851.36 485.58,850.03 490.15,848.69 494.72,847.34 499.29,846 503.86,844.64 508.43,843.29 513,841.93 517.57,840.57 522.14,839.2 526.71,837.83 531.28,836.46 535.85,835.09 540.42,833.71 544.99,832.33 549.56,830.95 554.13,829.56 558.7,828.17 563.27,826.78 567.84,825.39 572.41,823.99 576.98,822.6 581.55,821.2 586.12,819.79 590.69,818.39 595.26,816.98 599.83,815.58 604.4,814.17 608.97,812.76 613.54,811.34 618.11,809.93 622.68,808.51 627.25,807.1 631.82,805.68 636.39,804.26 640.97,802.84 645.54,801.42 650.11,800 654.68,798.57 659.25,797.15 663.82,795.72 668.39,794.3 672.96,792.87 677.53,791.44 682.1,790.01 686.67,788.59 691.24,787.16 695.81,785.73 700.38,784.3 704.95,782.87 709.52,781.44 714.09,780.01 718.66,778.58 723.23,777.15 727.8,775.72 732.37,774.29 736.94,772.86 741.51,771.43 746.08,770 750.65,768.57" fill="none" stroke="#f1d91a" stroke-width="2.6" stroke-linejoin="round" stroke-linecap="butt"/>
<polyline points="106.25,958.07 110.82,936.03 115.39,945.74 119.96,940.67 124.53,935.59 129.1,937.04 133.67,931.65 138.24,928.62 142.81,925.98 147.38,923.64 151.95,921.55 156.52,919.66 161.09,917.93 165.66,916.33 170.23,914.83 174.8,913.43 179.38,912.09 183.95,910.82 188.52,909.58 193.09,908.39 197.66,907.23 202.23,906.09 206.8,904.97 211.37,903.86 215.94,902.77 220.51,901.68 225.08,900.59 229.65,899.51 234.22,898.42 238.79,897.34 243.36,896.25 247.93,895.15 252.5,894.06 257.07,892.95 261.64,891.84 266.21,890.72 270.78,889.59 275.35,888.45 279.92,887.31 284.49,886.15 289.06,884.99 293.63,883.82 298.2,882.63 302.77,881.44 307.34,880.24 311.91,879.03 316.48,877.81 321.05,876.58 325.62,875.34 330.19,874.09 334.76,872.83 339.33,871.56 343.9,870.28 348.47,869 353.04,867.7 357.61,866.4 362.18,865.09 366.75,863.76 371.32,862.44 375.89,861.1 380.46,859.75 385.03,858.4 389.6,857.04 394.17,855.67 398.74,854.29 403.31,852.91 407.88,851.52 412.46,850.12 417.03,848.72 421.6,847.31 426.17,845.89 430.74,844.47 435.31,843.04 439.88,841.6 444.45,840.16 449.02,838.71 453.59,837.26 458.16,835.8 462.73,834.33 467.3,832.87 471.87,831.39 476.44,829.91 481.01,828.43 485.58,826.94 490.15,825.45 494.72,823.95 499.29,822.45 503.86,820.94 508.43,819.43 513,817.92 517.57,816.4 522.14,814.88 526.71,813.35 531.28,811.82 535.85,810.29 540.42,808.75 544.99,807.22 549.56,805.67 554.13,804.13 558.7,802.58 563.27,801.03 567.84,799.48 572.41,797.92 576.98,796.37 581.55,794.8 586.12,793.24 590.69,791.68 595.26,790.11 599.83,788.54 604.4,786.97 608.97,785.4 613.54,783.82 618.11,782.25 622.68,780.67 627.25,779.09 631.82,777.51 636.39,775.93 640.97,774.35 645.54,772.76 650.11,771.18 654.68,769.59 659.25,768 663.82,766.41 668.39,764.82 672.96,763.23 677.53,761.64 682.1,760.05 686.67,758.46 691.24,756.87 695.81,755.28 700.38,753.68 704.95,752.09 709.52,750.49 714.09,748.9 718.66,747.31 723.23,745.71 727.8,744.12 732.37,742.52 736.94,740.93 741.51,739.33 746.08,737.74 750.65,736.15" fill="none" stroke="#77ac30" stroke-width="2.6" stroke-linejoin="round" stroke-linecap="butt"/>
<polyline points="106.25,949.29 110.82,925.19 115.39,935.81 119.96,930.26 124.53,924.71 129.1,926.3 133.67,920.4 138.24,917.09 142.81,914.2 147.38,911.64 151.95,909.35 156.52,907.28 161.09,905.39 165.66,903.64 170.23,902 174.8,900.47 179.38,899.01 183.95,897.61 188.52,896.26 193.09,894.96 197.66,893.69 202.23,892.44 206.8,891.21 211.37,890 215.94,888.8 220.51,887.61 225.08,886.43 229.65,885.24 234.22,884.05 238.79,882.87 243.36,881.68 247.93,880.48 252.5,879.28 257.07,878.07 261.64,876.85 266.21,875.63 270.78,874.39 275.35,873.15 279.92,871.9 284.49,870.63 289.06,869.36 293.63,868.08 298.2,866.78 302.77,865.48 307.34,864.17 311.91,862.84 316.48,861.5 321.05,860.16 325.62,858.8 330.19,857.44 334.76,856.06 339.33,854.67 343.9,853.27 348.47,851.87 353.04,850.45 357.61,849.02 362.18,847.59 366.75,846.14 371.32,844.69 375.89,843.23 380.46,841.76 385.03,840.28 389.6,838.79 394.17,837.29 398.74,835.78 403.31,834.27 407.88,832.75 412.46,831.22 417.03,829.69 421.6,828.14 426.17,826.59 430.74,825.04 435.31,823.47 439.88,821.9 444.45,820.32 449.02,818.74 453.59,817.15 458.16,815.56 462.73,813.95 467.3,812.35 471.87,810.73 476.44,809.12 481.01,807.49 485.58,805.86 490.15,804.23 494.72,802.59 499.29,800.95 503.86,799.3 508.43,797.65 513,795.99 517.57,794.33 522.14,792.67 526.71,791 531.28,789.33 535.85,787.65 540.42,785.97 544.99,784.29 549.56,782.6 554.13,780.91 558.7,779.22 563.27,777.53 567.84,775.83 572.41,774.13 576.98,772.42 581.55,770.72 586.12,769.01 590.69,767.3 595.26,765.58 599.83,763.87 604.4,762.15 608.97,760.43 613.54,758.71 618.11,756.98 622.68,755.26 627.25,753.53 631.82,751.8 636.39,750.07 640.97,748.34 645.54,746.61 650.11,744.87 654.68,743.14 659.25,741.4 663.82,739.66 668.39,737.92 672.96,736.18 677.53,734.44 682.1,732.7 686.67,730.96 691.24,729.22 695.81,727.48 700.38,725.74 704.95,723.99 709.52,722.25 714.09,720.51 718.66,718.76 723.23,717.02 727.8,715.27 732.37,713.53 736.94,711.79 741.51,710.04 746.08,708.3 750.65,706.56" fill="none" stroke="#4dbeee" stroke-width="2.6" stroke-linejoin="round" stroke-linecap="butt"/>
<polyline points="106.25,941.17 110.82,915.15 115.39,926.62 119.96,920.63 124.53,914.64 129.1,916.35 133.67,909.99 138.24,906.41 142.81,903.29 147.38,900.53 151.95,898.06 156.52,895.83 161.09,893.78 165.66,891.89 170.23,890.13 174.8,888.47 179.38,886.89 183.95,885.39 188.52,883.93 193.09,882.52 197.66,881.15 202.23,879.81 206.8,878.48 211.37,877.18 215.94,875.88 220.51,874.6 225.08,873.31 229.65,872.03 234.22,870.75 238.79,869.47 243.36,868.19 247.93,866.9 252.5,865.6 257.07,864.29 261.64,862.98 266.21,861.66 270.78,860.33 275.35,858.98 279.92,857.63 284.49,856.27 289.06,854.9 293.63,853.51 298.2,852.11 302.77,850.71 307.34,849.29 311.91,847.86 316.48,846.42 321.05,844.96 325.62,843.5 330.19,842.02 334.76,840.54 339.33,839.04 343.9,837.53 348.47,836.01 353.04,834.48 357.61,832.95 362.18,831.4 366.75,829.84 371.32,828.27 375.89,826.69 380.46,825.1 385.03,823.5 389.6,821.89 394.17,820.28 398.74,818.65 403.31,817.02 407.88,815.38 412.46,813.73 417.03,812.07 421.6,810.41 426.17,808.73 430.74,807.05 435.31,805.36 439.88,803.67 444.45,801.97 449.02,800.26 453.59,798.54 458.16,796.82 462.73,795.09 467.3,793.36 471.87,791.61 476.44,789.87 481.01,788.12 485.58,786.36 490.15,784.6 494.72,782.83 499.29,781.05 503.86,779.28 508.43,777.49 513,775.7 517.57,773.91 522.14,772.12 526.71,770.32 531.28,768.51 535.85,766.7 540.42,764.89 544.99,763.07 549.56,761.25 554.13,759.43 558.7,757.6 563.27,755.77 567.84,753.94 572.41,752.1 576.98,750.26 581.55,748.42 586.12,746.58 590.69,744.73 595.26,742.88 599.83,741.03 604.4,739.17 608.97,737.32 613.54,735.46 618.11,733.6 622.68,731.73 627.25,729.87 631.82,728 636.39,726.14 640.97,724.27 645.54,722.4 650.11,720.52 654.68,718.65 659.25,716.78 663.82,714.9 668.39,713.03 672.96,711.15 677.53,709.27 682.1,707.39 686.67,705.51 691.24,703.63 695.81,701.75 700.38,699.87 704.95,697.99 709.52,696.11 714.09,694.22 718.66,692.34 723.23,690.46 727.8,688.58 732.37,686.69 736.94,684.81 741.51,682.93 746.08,681.05 750.65,679.17" fill="none" stroke="#0e6fae" stroke-width="2.6" stroke-linejoin="round" stroke-linecap="butt"/>
<polyline points="106.25,933.58 110.82,905.77 115.39,918.03 119.96,911.63 124.53,905.22 129.1,907.05 133.67,900.25 138.24,896.43 142.81,893.09 147.38,890.15 151.95,887.51 156.52,885.12 161.09,882.93 165.66,880.91 170.23,879.03 174.8,877.26 179.38,875.57 183.95,873.96 188.52,872.41 193.09,870.9 197.66,869.43 202.23,868 206.8,866.58 211.37,865.19 215.94,863.8 220.51,862.43 225.08,861.06 229.65,859.69 234.22,858.32 238.79,856.95 243.36,855.58 247.93,854.2 252.5,852.81 257.07,851.42 261.64,850.01 266.21,848.6 270.78,847.18 275.35,845.74 279.92,844.3 284.49,842.84 289.06,841.37 293.63,839.89 298.2,838.4 302.77,836.9 307.34,835.38 311.91,833.85 316.48,832.31 321.05,830.76 325.62,829.19 330.19,827.62 334.76,826.03 339.33,824.43 343.9,822.82 348.47,821.19 353.04,819.56 357.61,817.91 362.18,816.26 366.75,814.59 371.32,812.91 375.89,811.23 380.46,809.53 385.03,807.82 389.6,806.1 394.17,804.38 398.74,802.64 403.31,800.89 407.88,799.14 412.46,797.38 417.03,795.6 421.6,793.82 426.17,792.04 430.74,790.24 435.31,788.44 439.88,786.62 444.45,784.8 449.02,782.98 453.59,781.14 458.16,779.3 462.73,777.46 467.3,775.6 471.87,773.74 476.44,771.88 481.01,770 485.58,768.12 490.15,766.24 494.72,764.35 499.29,762.46 503.86,760.55 508.43,758.65 513,756.74 517.57,754.82 522.14,752.9 526.71,750.98 531.28,749.05 535.85,747.12 540.42,745.18 544.99,743.24 549.56,741.29 554.13,739.34 558.7,737.39 563.27,735.43 567.84,733.48 572.41,731.51 576.98,729.55 581.55,727.58 586.12,725.61 590.69,723.63 595.26,721.66 599.83,719.68 604.4,717.69 608.97,715.71 613.54,713.72 618.11,711.73 622.68,709.74 627.25,707.75 631.82,705.76 636.39,703.76 640.97,701.76 645.54,699.76 650.11,697.76 654.68,695.76 659.25,693.76 663.82,691.76 668.39,689.75 672.96,687.74 677.53,685.74 682.1,683.73 686.67,681.72 691.24,679.71 695.81,677.7 700.38,675.69 704.95,673.68 709.52,671.67 714.09,669.66 718.66,667.64 723.23,665.63 727.8,663.62 732.37,661.61 736.94,659.6 741.51,657.59 746.08,655.57 750.65,653.56" fill="none" stroke="#0000cc" stroke-width="2.6" stroke-linejoin="round" stroke-linecap="butt"/>
<polyline points="106.25,926.43 110.82,896.93 115.39,909.93 119.96,903.14 124.53,896.35 129.1,898.29 133.67,891.08 138.24,887.03 142.81,883.49 147.38,880.36 151.95,877.56 156.52,875.03 161.09,872.71 165.66,870.57 170.23,868.57 174.8,866.69 179.38,864.9 183.95,863.19 188.52,861.55 193.09,859.95 197.66,858.39 202.23,856.87 206.8,855.37 211.37,853.89 215.94,852.42 220.51,850.96 225.08,849.51 229.65,848.06 234.22,846.61 238.79,845.16 243.36,843.7 247.93,842.23 252.5,840.76 257.07,839.28 261.64,837.8 266.21,836.3 270.78,834.79 275.35,833.27 279.92,831.73 284.49,830.19 289.06,828.63 293.63,827.06 298.2,825.48 302.77,823.88 307.34,822.28 311.91,820.65 316.48,819.02 321.05,817.37 325.62,815.71 330.19,814.04 334.76,812.36 339.33,810.66 343.9,808.95 348.47,807.23 353.04,805.5 357.61,803.75 362.18,801.99 366.75,800.23 371.32,798.45 375.89,796.66 380.46,794.86 385.03,793.05 389.6,791.22 394.17,789.39 398.74,787.55 403.31,785.7 407.88,783.84 412.46,781.97 417.03,780.09 421.6,778.2 426.17,776.31 430.74,774.4 435.31,772.49 439.88,770.56 444.45,768.64 449.02,766.7 453.59,764.75 458.16,762.8 462.73,760.84 467.3,758.88 471.87,756.9 476.44,754.92 481.01,752.94 485.58,750.94 490.15,748.95 494.72,746.94 499.29,744.93 503.86,742.92 508.43,740.89 513,738.87 517.57,736.84 522.14,734.8 526.71,732.76 531.28,730.71 535.85,728.66 540.42,726.61 544.99,724.55 549.56,722.49 554.13,720.42 558.7,718.35 563.27,716.27 567.84,714.19 572.41,712.11 576.98,710.03 581.55,707.94 586.12,705.85 590.69,703.76 595.26,701.66 599.83,699.56 604.4,697.46 608.97,695.35 613.54,693.25 618.11,691.14 622.68,689.03 627.25,686.91 631.82,684.8 636.39,682.68 640.97,680.56 645.54,678.44 650.11,676.32 654.68,674.2 659.25,672.07 663.82,669.95 668.39,667.82 672.96,665.69 677.53,663.56 682.1,661.43 686.67,659.3 691.24,657.17 695.81,655.04 700.38,652.91 704.95,650.77 709.52,648.64 714.09,646.51 718.66,644.37 723.23,642.24 727.8,640.11 732.37,637.97 736.94,635.84 741.51,633.71 746.08,631.57 750.65,629.44" fill="none" stroke="#7e2f8e" stroke-width="2.6" stroke-linejoin="round" stroke-linecap="butt"/>
<polyline points="106.25,919.65 110.82,888.55 115.39,902.26 119.96,895.1 124.53,887.94 129.1,889.98 133.67,882.38 138.24,878.11 142.81,874.38 147.38,871.08 151.95,868.13 156.52,865.46 161.09,863.02 165.66,860.76 170.23,858.65 174.8,856.67 179.38,854.79 183.95,852.98 188.52,851.25 193.09,849.57 197.66,847.92 202.23,846.32 206.8,844.74 211.37,843.18 215.94,841.63 220.51,840.09 225.08,838.56 229.65,837.03 234.22,835.5 238.79,833.97 243.36,832.43 247.93,830.89 252.5,829.34 257.07,827.78 261.64,826.21 266.21,824.63 270.78,823.04 275.35,821.44 279.92,819.82 284.49,818.19 289.06,816.55 293.63,814.89 298.2,813.23 302.77,811.54 307.34,809.85 311.91,808.14 316.48,806.42 321.05,804.68 325.62,802.93 330.19,801.17 334.76,799.39 339.33,797.6 343.9,795.8 348.47,793.99 353.04,792.16 357.61,790.32 362.18,788.47 366.75,786.61 371.32,784.73 375.89,782.84 380.46,780.95 385.03,779.04 389.6,777.12 394.17,775.18 398.74,773.24 403.31,771.29 407.88,769.33 412.46,767.36 417.03,765.38 421.6,763.39 426.17,761.39 430.74,759.38 435.31,757.36 439.88,755.34 444.45,753.3 449.02,751.26 453.59,749.21 458.16,747.15 462.73,745.09 467.3,743.01 471.87,740.93 476.44,738.85 481.01,736.75 485.58,734.65 490.15,732.55 494.72,730.43 499.29,728.31 503.86,726.19 508.43,724.06 513,721.92 517.57,719.78 522.14,717.63 526.71,715.48 531.28,713.33 535.85,711.16 540.42,709 544.99,706.83 549.56,704.65 554.13,702.47 558.7,700.29 563.27,698.1 567.84,695.91 572.41,693.72 576.98,691.52 581.55,689.32 586.12,687.11 590.69,684.91 595.26,682.7 599.83,680.48 604.4,678.27 608.97,676.05 613.54,673.83 618.11,671.6 622.68,669.38 627.25,667.15 631.82,664.92 636.39,662.69 640.97,660.46 645.54,658.22 650.11,655.98 654.68,653.75 659.25,651.51 663.82,649.27 668.39,647.02 672.96,644.78 677.53,642.54 682.1,640.29 686.67,638.05 691.24,635.8 695.81,633.55 700.38,631.3 704.95,629.06 709.52,626.81 714.09,624.56 718.66,622.31 723.23,620.06 727.8,617.81 732.37,615.56 736.94,613.31 741.51,611.06 746.08,608.81 750.65,606.57" fill="none" stroke="#f000f0" stroke-width="2.6" stroke-linejoin="round" stroke-linecap="butt"/>
<rect x="65.12" y="594" width="685.53" height="457.6" fill="none" stroke="#5a5a5a" stroke-width="1.2"/>
<path d="M110.82 1051.6v-7M110.82 594v7M156.52 1051.6v-7M156.52 594v7M202.23 1051.6v-7M202.23 594v7M247.93 1051.6v-7M247.93 594v7M293.63 1051.6v-7M293.63 594v7M339.33 1051.6v-7M339.33 594v7M385.03 1051.6v-7M385.03 594v7M430.74 1051.6v-7M430.74 594v7M476.44 1051.6v-7M476.44 594v7M522.14 1051.6v-7M522.14 594v7M567.84 1051.6v-7M567.84 594v7M613.54 1051.6v-7M613.54 594v7M659.25 1051.6v-7M659.25 594v7M704.95 1051.6v-7M704.95 594v7M65.12 1021.09h7M750.65 1021.09h-7M65.12 990.59h7M750.65 990.59h-7M65.12 960.08h7M750.65 960.08h-7M65.12 929.57h7M750.65 929.57h-7M65.12 899.07h7M750.65 899.07h-7M65.12 868.56h7M750.65 868.56h-7M65.12 838.05h7M750.65 838.05h-7M65.12 807.55h7M750.65 807.55h-7M65.12 777.04h7M750.65 777.04h-7M65.12 746.53h7M750.65 746.53h-7M65.12 716.03h7M750.65 716.03h-7M65.12 685.52h7M750.65 685.52h-7M65.12 655.01h7M750.65 655.01h-7M65.12 624.51h7M750.65 624.51h-7" stroke="#5a5a5a" stroke-width="1.2" fill="none"/>
<text x="65.12" y="1071" text-anchor="middle" class="tk">0</text>
<text x="110.82" y="1071" text-anchor="middle" class="tk">10</text>
<text x="156.52" y="1071" text-anchor="middle" class="tk">20</text>
<text x="202.23" y="1071" text-anchor="middle" class="tk">30</text>
<text x="247.93" y="1071" text-anchor="middle" class="tk">40</text>
<text x="293.63" y="1071" text-anchor="middle" class="tk">50</text>
<text x="339.33" y="1071" text-anchor="middle" class="tk">60</text>
<text x="385.03" y="1071" text-anchor="middle" class="tk">70</text>
<text x="430.74" y="1071" text-anchor="middle" class="tk">80</text>
<text x="476.44" y="1071" text-anchor="middle" class="tk">90</text>
<text x="522.14" y="1071" text-anchor="middle" class="tk">100</text>
<text x="567.84" y="1071" text-anchor="middle" class="tk">110</text>
<text x="613.54" y="1071" text-anchor="middle" class="tk">120</text>
<text x="659.25" y="1071" text-anchor="middle" class="tk">130</text>
<text x="704.95" y="1071" text-anchor="middle" class="tk">140</text>
<text x="750.65" y="1071" text-anchor="middle" class="tk">150</text>
<text x="58.62" y="1056.7" text-anchor="end" class="tk">0</text>
<text x="58.62" y="1026.19" text-anchor="end" class="tk">1</text>
<text x="58.62" y="995.69" text-anchor="end" class="tk">2</text>
<text x="58.62" y="965.18" text-anchor="end" class="tk">3</text>
<text x="58.62" y="934.67" text-anchor="end" class="tk">4</text>
<text x="58.62" y="904.17" text-anchor="end" class="tk">5</text>
<text x="58.62" y="873.66" text-anchor="end" class="tk">6</text>
<text x="58.62" y="843.15" text-anchor="end" class="tk">7</text>
<text x="58.62" y="812.65" text-anchor="end" class="tk">8</text>
<text x="58.62" y="782.14" text-anchor="end" class="tk">9</text>
<text x="58.62" y="751.63" text-anchor="end" class="tk">10</text>
<text x="58.62" y="721.13" text-anchor="end" class="tk">11</text>
<text x="58.62" y="690.62" text-anchor="end" class="tk">12</text>
<text x="58.62" y="660.11" text-anchor="end" class="tk">13</text>
<text x="58.62" y="629.61" text-anchor="end" class="tk">14</text>
<text x="58.62" y="599.1" text-anchor="end" class="tk">15</text>
<text x="407.88" y="1088" text-anchor="middle" class="al">T/ time steps</text>
<text transform="translate(38.4 822.8) rotate(-90)" text-anchor="middle" class="al">REQ(EE,T)</text>
<rect x="77.7" y="604.1" width="104.5" height="210.1" fill="#fff" stroke="#6a6a6a" stroke-width="1.2"/>
<path d="M77.7 642.1H182.2" stroke="#6a6a6a" stroke-width="1.2"/>
<text x="129.95" y="619.7" text-anchor="middle" class="lt">Spiking-LeNet-5</text>
<text x="129.95" y="636.9" text-anchor="middle" class="lt">avg 0b Poisson</text>
<path d="M86.4 652.4H113.2" stroke="#8f3a0c" stroke-width="2.6"/>
<text x="116.8" y="656.8" class="le">EE=1e-02</text>
<path d="M86.4 669.3H113.2" stroke="#e01515" stroke-width="2.6"/>
<text x="116.8" y="673.7" class="le">EE=1e-03</text>
<path d="M86.4 686.2H113.2" stroke="#d8801c" stroke-width="2.6"/>
<text x="116.8" y="690.6" class="le">EE=1e-04</text>
<path d="M86.4 703.1H113.2" stroke="#f1d91a" stroke-width="2.6"/>
<text x="116.8" y="707.5" class="le">EE=1e-05</text>
<path d="M86.4 720H113.2" stroke="#77ac30" stroke-width="2.6"/>
<text x="116.8" y="724.4" class="le">EE=1e-06</text>
<path d="M86.4 736.9H113.2" stroke="#4dbeee" stroke-width="2.6"/>
<text x="116.8" y="741.3" class="le">EE=1e-07</text>
<path d="M86.4 753.8H113.2" stroke="#0e6fae" stroke-width="2.6"/>
<text x="116.8" y="758.2" class="le">EE=1e-08</text>
<path d="M86.4 770.7H113.2" stroke="#0000cc" stroke-width="2.6"/>
<text x="116.8" y="775.1" class="le">EE=1e-09</text>
<path d="M86.4 787.6H113.2" stroke="#7e2f8e" stroke-width="2.6"/>
<text x="116.8" y="792" class="le">EE=1e-10</text>
<path d="M86.4 804.5H113.2" stroke="#f000f0" stroke-width="2.6"/>
<text x="116.8" y="808.9" class="le">EE=1e-11</text>
<text x="5.6" y="564.3" class="pl">B</text>
<path d="M132.95 1149.5V1604.5M201.18 1149.5V1604.5M269.4 1149.5V1604.5M337.62 1149.5V1604.5M405.85 1149.5V1604.5M474.07 1149.5V1604.5M542.29 1149.5V1604.5M610.51 1149.5V1604.5M678.74 1149.5V1604.5M64.73 1559H746.96M64.73 1513.5H746.96M64.73 1468H746.96M64.73 1422.5H746.96M64.73 1377H746.96M64.73 1331.5H746.96M64.73 1286H746.96M64.73 1240.5H746.96M64.73 1195H746.96" stroke="#e0e0e0" stroke-width="1" fill="none"/>
<polyline points="126.13,1594.13 132.95,1580.47 139.78,1581.19 146.6,1581.67 153.42,1581.9 160.24,1581.52 167.06,1580.44 173.89,1579.15 180.71,1577.87 187.53,1576.6 194.35,1575.49 201.18,1574.47 208,1573 214.82,1571.41 221.64,1569.94 228.47,1568.56 235.29,1567.23 242.11,1565.88 248.93,1564.45 255.75,1562.96 262.58,1561.65 269.4,1560.71 276.22,1559.38 283.04,1557.92 289.87,1556.45 296.69,1554.91 303.51,1553.32 310.33,1551.69 317.16,1550 323.98,1548.29 330.8,1546.59 337.62,1544.98 344.44,1543.67 351.27,1542.88 358.09,1541.49 364.91,1539.79 371.73,1538.09 378.56,1536.42 385.38,1534.86 392.2,1533.45 399.02,1532.08 405.85,1530.63 412.67,1528.92 419.49,1527.13 426.31,1525.37 433.13,1523.7 439.96,1522.14 446.78,1520.6 453.6,1519.09 460.42,1517.6 467.25,1516.12 474.07,1514.57 480.89,1512.87 487.71,1511.11 494.53,1509.36 501.36,1507.64 508.18,1505.93 515,1504.23 521.82,1502.56 528.65,1500.9 535.47,1499.25 542.29,1497.6 549.11,1495.94 555.94,1494.29 562.76,1492.64 569.58,1490.93 576.4,1489.09 583.22,1487.18 590.05,1485.32 596.87,1483.69 603.69,1482.41 610.51,1481.12 617.34,1479.49 624.16,1477.74 630.98,1475.98 637.8,1474.26 644.63,1472.63 651.45,1471.03 658.27,1469.43 665.09,1467.87 671.91,1466.41 678.74,1464.94 685.56,1463.31 692.38,1461.63 699.2,1459.92 706.03,1458.12 712.85,1456.24 719.67,1454.35 726.49,1452.54 733.32,1450.9 740.14,1449.32 746.96,1447.74" fill="none" stroke="#8f3a0c" stroke-width="2.6" stroke-linejoin="round" stroke-linecap="butt"/>
<polyline points="126.13,1590.72 132.95,1572.58 139.78,1573.54 146.6,1574.18 153.42,1574.48 160.24,1573.98 167.06,1572.53 173.89,1570.83 180.71,1569.13 187.53,1567.44 194.35,1565.96 201.18,1564.61 208,1562.65 214.82,1560.54 221.64,1558.59 228.47,1556.76 235.29,1555 242.11,1553.2 248.93,1551.3 255.75,1549.32 262.58,1547.58 269.4,1546.33 276.22,1544.56 283.04,1542.62 289.87,1540.67 296.69,1538.63 303.51,1536.51 310.33,1534.35 317.16,1532.11 323.98,1529.83 330.8,1527.57 337.62,1525.43 344.44,1523.7 351.27,1522.64 358.09,1520.79 364.91,1518.55 371.73,1516.28 378.56,1514.06 385.38,1512 392.2,1510.12 399.02,1508.3 405.85,1506.37 412.67,1504.11 419.49,1501.73 426.31,1499.38 433.13,1497.17 439.96,1495.09 446.78,1493.06 453.6,1491.04 460.42,1489.06 467.25,1487.09 474.07,1485.04 480.89,1482.78 487.71,1480.45 494.53,1478.12 501.36,1475.83 508.18,1473.56 515,1471.31 521.82,1469.08 528.65,1466.88 535.47,1464.69 542.29,1462.49 549.11,1460.3 555.94,1458.1 562.76,1455.9 569.58,1453.64 576.4,1451.19 583.22,1448.66 590.05,1446.18 596.87,1444.02 603.69,1442.32 610.51,1440.6 617.34,1438.44 624.16,1436.11 630.98,1433.78 637.8,1431.49 644.63,1429.32 651.45,1427.2 658.27,1425.08 665.09,1423.01 671.91,1421.07 678.74,1419.11 685.56,1416.95 692.38,1414.72 699.2,1412.44 706.03,1410.05 712.85,1407.55 719.67,1405.05 726.49,1402.64 733.32,1400.46 740.14,1398.36 746.96,1396.27" fill="none" stroke="#e01515" stroke-width="2.6" stroke-linejoin="round" stroke-linecap="butt"/>
<polyline points="126.13,1587.92 132.95,1566.09 139.78,1567.24 146.6,1568.01 153.42,1568.37 160.24,1567.77 167.06,1566.03 173.89,1563.98 180.71,1561.93 187.53,1559.9 194.35,1558.12 201.18,1556.49 208,1554.14 214.82,1551.59 221.64,1549.25 228.47,1547.05 235.29,1544.92 242.11,1542.76 248.93,1540.48 255.75,1538.09 262.58,1535.99 269.4,1534.49 276.22,1532.37 283.04,1530.03 289.87,1527.68 296.69,1525.23 303.51,1522.68 310.33,1520.07 317.16,1517.38 323.98,1514.63 330.8,1511.92 337.62,1509.34 344.44,1507.26 351.27,1505.98 358.09,1503.76 364.91,1501.05 371.73,1498.33 378.56,1495.66 385.38,1493.17 392.2,1490.92 399.02,1488.73 405.85,1486.4 412.67,1483.68 419.49,1480.82 426.31,1477.99 433.13,1475.33 439.96,1472.83 446.78,1470.38 453.6,1467.96 460.42,1465.58 467.25,1463.2 474.07,1460.74 480.89,1458.02 487.71,1455.2 494.53,1452.4 501.36,1449.65 508.18,1446.92 515,1444.21 521.82,1441.53 528.65,1438.88 535.47,1436.24 542.29,1433.59 549.11,1430.95 555.94,1428.31 562.76,1425.67 569.58,1422.94 576.4,1419.99 583.22,1416.94 590.05,1413.97 596.87,1411.37 603.69,1409.32 610.51,1407.25 617.34,1404.65 624.16,1401.85 630.98,1399.04 637.8,1396.29 644.63,1393.68 651.45,1391.12 658.27,1388.57 665.09,1386.07 671.91,1383.74 678.74,1381.38 685.56,1378.78 692.38,1376.1 699.2,1373.36 706.03,1370.48 712.85,1367.48 719.67,1364.46 726.49,1361.56 733.32,1358.94 740.14,1356.42 746.96,1353.89" fill="none" stroke="#e5ab2b" stroke-width="2.6" stroke-linejoin="round" stroke-linecap="butt"/>
<polyline points="126.13,1585.48 132.95,1560.45 139.78,1561.77 146.6,1562.65 153.42,1563.07 160.24,1562.38 167.06,1560.38 173.89,1558.03 180.71,1555.69 187.53,1553.36 194.35,1551.31 201.18,1549.45 208,1546.75 214.82,1543.83 221.64,1541.14 228.47,1538.61 235.29,1536.18 242.11,1533.7 248.93,1531.08 255.75,1528.34 262.58,1525.94 269.4,1524.21 276.22,1521.78 283.04,1519.09 289.87,1516.41 296.69,1513.59 303.51,1510.66 310.33,1507.68 317.16,1504.59 323.98,1501.44 330.8,1498.33 337.62,1495.37 344.44,1492.98 351.27,1491.52 358.09,1488.97 364.91,1485.87 371.73,1482.75 378.56,1479.68 385.38,1476.83 392.2,1474.25 399.02,1471.74 405.85,1469.07 412.67,1465.94 419.49,1462.66 426.31,1459.42 433.13,1456.37 439.96,1453.5 446.78,1450.69 453.6,1447.91 460.42,1445.18 467.25,1442.46 474.07,1439.63 480.89,1436.51 487.71,1433.29 494.53,1430.08 501.36,1426.92 508.18,1423.79 515,1420.68 521.82,1417.61 528.65,1414.57 535.47,1411.54 542.29,1408.51 549.11,1405.48 555.94,1402.45 562.76,1399.41 569.58,1396.29 576.4,1392.91 583.22,1389.41 590.05,1386 596.87,1383.02 603.69,1380.67 610.51,1378.3 617.34,1375.31 624.16,1372.1 630.98,1368.88 637.8,1365.73 644.63,1362.73 651.45,1359.8 658.27,1356.87 665.09,1354.01 671.91,1351.34 678.74,1348.63 685.56,1345.65 692.38,1342.57 699.2,1339.44 706.03,1336.13 712.85,1332.69 719.67,1329.22 726.49,1325.9 733.32,1322.9 740.14,1320 746.96,1317.11" fill="none" stroke="#f1d91a" stroke-width="2.6" stroke-linejoin="round" stroke-linecap="butt"/>
<polyline points="126.13,1583.3 132.95,1555.4 139.78,1556.87 146.6,1557.86 153.42,1558.32 160.24,1557.55 167.06,1555.33 173.89,1552.71 180.71,1550.1 187.53,1547.5 194.35,1545.22 201.18,1543.14 208,1540.13 214.82,1536.88 221.64,1533.88 228.47,1531.06 235.29,1528.35 242.11,1525.59 248.93,1522.67 255.75,1519.62 262.58,1516.94 269.4,1515.01 276.22,1512.3 283.04,1509.31 289.87,1506.32 296.69,1503.18 303.51,1499.92 310.33,1496.59 317.16,1493.14 323.98,1489.64 330.8,1486.17 337.62,1482.88 344.44,1480.21 351.27,1478.58 358.09,1475.74 364.91,1472.28 371.73,1468.8 378.56,1465.38 385.38,1462.21 392.2,1459.33 399.02,1456.53 405.85,1453.55 412.67,1450.07 419.49,1446.41 426.31,1442.8 433.13,1439.4 439.96,1436.2 446.78,1433.07 453.6,1429.98 460.42,1426.94 467.25,1423.9 474.07,1420.75 480.89,1417.27 487.71,1413.68 494.53,1410.1 501.36,1406.58 508.18,1403.09 515,1399.62 521.82,1396.2 528.65,1392.82 535.47,1389.44 542.29,1386.06 549.11,1382.68 555.94,1379.31 562.76,1375.92 569.58,1372.44 576.4,1368.67 583.22,1364.78 590.05,1360.97 596.87,1357.65 603.69,1355.03 610.51,1352.39 617.34,1349.06 624.16,1345.48 630.98,1341.9 637.8,1338.38 644.63,1335.04 651.45,1331.77 658.27,1328.51 665.09,1325.32 671.91,1322.34 678.74,1319.32 685.56,1316 692.38,1312.57 699.2,1309.08 706.03,1305.39 712.85,1301.55 719.67,1297.7 726.49,1293.99 733.32,1290.64 740.14,1287.41 746.96,1284.19" fill="none" stroke="#77ac30" stroke-width="2.6" stroke-linejoin="round" stroke-linecap="butt"/>
<polyline points="126.13,1581.32 132.95,1550.8 139.78,1552.41 146.6,1553.48 153.42,1553.99 160.24,1553.15 167.06,1550.72 173.89,1547.85 180.71,1544.99 187.53,1542.15 194.35,1539.66 201.18,1537.39 208,1534.09 214.82,1530.53 221.64,1527.26 228.47,1524.18 235.29,1521.21 242.11,1518.19 248.93,1515 255.75,1511.66 262.58,1508.72 269.4,1506.62 276.22,1503.65 283.04,1500.38 289.87,1497.11 296.69,1493.67 303.51,1490.11 310.33,1486.46 317.16,1482.7 323.98,1478.86 330.8,1475.07 337.62,1471.47 344.44,1468.55 351.27,1466.77 358.09,1463.66 364.91,1459.88 371.73,1456.07 378.56,1452.33 385.38,1448.86 392.2,1445.71 399.02,1442.65 405.85,1439.39 412.67,1435.59 419.49,1431.59 426.31,1427.64 433.13,1423.91 439.96,1420.42 446.78,1416.99 453.6,1413.61 460.42,1410.28 467.25,1406.96 474.07,1403.51 480.89,1399.71 487.71,1395.78 494.53,1391.87 501.36,1388.02 508.18,1384.2 515,1380.4 521.82,1376.66 528.65,1372.96 535.47,1369.26 542.29,1365.57 549.11,1361.87 555.94,1358.18 562.76,1354.48 569.58,1350.67 576.4,1346.55 583.22,1342.29 590.05,1338.13 596.87,1334.5 603.69,1331.63 610.51,1328.74 617.34,1325.1 624.16,1321.19 630.98,1317.26 637.8,1313.41 644.63,1309.76 651.45,1306.19 658.27,1302.62 665.09,1299.13 671.91,1295.87 678.74,1292.57 685.56,1288.94 692.38,1285.19 699.2,1281.36 706.03,1277.33 712.85,1273.14 719.67,1268.91 726.49,1264.87 733.32,1261.2 740.14,1257.67 746.96,1254.14" fill="none" stroke="#4dbeee" stroke-width="2.6" stroke-linejoin="round" stroke-linecap="butt"/>
<polyline points="126.13,1579.48 132.95,1546.54 139.78,1548.27 146.6,1549.43 153.42,1549.98 160.24,1549.07 167.06,1546.45 173.89,1543.35 180.71,1540.27 187.53,1537.2 194.35,1534.51 201.18,1532.06 208,1528.5 214.82,1524.66 221.64,1521.13 228.47,1517.8 235.29,1514.6 242.11,1511.34 248.93,1507.89 255.75,1504.29 262.58,1501.12 269.4,1498.85 276.22,1495.65 283.04,1492.12 289.87,1488.58 296.69,1484.88 303.51,1481.03 310.33,1477.1 317.16,1473.03 323.98,1468.89 330.8,1464.8 337.62,1460.91 344.44,1457.76 351.27,1455.84 358.09,1452.48 364.91,1448.4 371.73,1444.29 378.56,1440.25 385.38,1436.51 392.2,1433.11 399.02,1429.8 405.85,1426.29 412.67,1422.18 419.49,1417.86 426.31,1413.6 433.13,1409.58 439.96,1405.81 446.78,1402.11 453.6,1398.46 460.42,1394.86 467.25,1391.28 474.07,1387.56 480.89,1383.45 487.71,1379.21 494.53,1374.99 501.36,1370.83 508.18,1366.71 515,1362.62 521.82,1358.58 528.65,1354.58 535.47,1350.59 542.29,1346.6 549.11,1342.61 555.94,1338.63 562.76,1334.64 569.58,1330.53 576.4,1326.08 583.22,1321.48 590.05,1316.98 596.87,1313.06 603.69,1309.97 610.51,1306.85 617.34,1302.92 624.16,1298.7 630.98,1294.46 637.8,1290.31 644.63,1286.37 651.45,1282.51 658.27,1278.66 665.09,1274.89 671.91,1271.37 678.74,1267.81 685.56,1263.89 692.38,1259.84 699.2,1255.71 706.03,1251.37 712.85,1246.83 719.67,1242.28 726.49,1237.91 733.32,1233.95 740.14,1230.14 746.96,1226.33" fill="none" stroke="#0e6fae" stroke-width="2.6" stroke-linejoin="round" stroke-linecap="butt"/>
<polyline points="126.13,1577.76 132.95,1542.55 139.78,1544.4 146.6,1545.64 153.42,1546.23 160.24,1545.26 167.06,1542.46 173.89,1539.15 180.71,1535.85 187.53,1532.58 194.35,1529.7 201.18,1527.08 208,1523.28 214.82,1519.17 221.64,1515.4 228.47,1511.84 235.29,1508.42 242.11,1504.93 248.93,1501.25 255.75,1497.4 262.58,1494.02 269.4,1491.59 276.22,1488.17 283.04,1484.39 289.87,1480.61 296.69,1476.65 303.51,1472.54 310.33,1468.34 317.16,1463.99 323.98,1459.57 330.8,1455.19 337.62,1451.03 344.44,1447.67 351.27,1445.62 358.09,1442.03 364.91,1437.67 371.73,1433.28 378.56,1428.96 385.38,1424.96 392.2,1421.33 399.02,1417.79 405.85,1414.04 412.67,1409.65 419.49,1405.03 426.31,1400.47 433.13,1396.18 439.96,1392.15 446.78,1388.2 453.6,1384.29 460.42,1380.45 467.25,1376.62 474.07,1372.65 480.89,1368.26 487.71,1363.72 494.53,1359.21 501.36,1354.77 508.18,1350.37 515,1345.99 521.82,1341.67 528.65,1337.4 535.47,1333.13 542.29,1328.87 549.11,1324.61 555.94,1320.35 562.76,1316.09 569.58,1311.69 576.4,1306.94 583.22,1302.02 590.05,1297.22 596.87,1293.03 603.69,1289.72 610.51,1286.39 617.34,1282.19 624.16,1277.68 630.98,1273.15 637.8,1268.71 644.63,1264.5 651.45,1260.37 658.27,1256.26 665.09,1252.24 671.91,1248.47 678.74,1244.67 685.56,1240.48 692.38,1236.15 699.2,1231.74 706.03,1227.09 712.85,1222.25 719.67,1217.38 726.49,1212.71 733.32,1208.48 740.14,1204.4 746.96,1200.34" fill="none" stroke="#0000cc" stroke-width="2.6" stroke-linejoin="round" stroke-linecap="butt"/>
<polyline points="126.13,1576.13 132.95,1538.8 139.78,1540.76 146.6,1542.08 153.42,1542.7 160.24,1541.67 167.06,1538.7 173.89,1535.19 180.71,1531.69 187.53,1528.22 194.35,1525.17 201.18,1522.39 208,1518.36 214.82,1514 221.64,1509.99 228.47,1506.22 235.29,1502.59 242.11,1498.9 248.93,1494.99 255.75,1490.91 262.58,1487.32 269.4,1484.74 276.22,1481.12 283.04,1477.11 289.87,1473.1 296.69,1468.9 303.51,1464.54 310.33,1460.08 317.16,1455.47 323.98,1450.78 330.8,1446.14 337.62,1441.73 344.44,1438.17 351.27,1435.99 358.09,1432.19 364.91,1427.56 371.73,1422.9 378.56,1418.32 385.38,1414.08 392.2,1410.22 399.02,1406.48 405.85,1402.49 412.67,1397.84 419.49,1392.94 426.31,1388.11 433.13,1383.55 439.96,1379.28 446.78,1375.09 453.6,1370.95 460.42,1366.87 467.25,1362.81 474.07,1358.59 480.89,1353.94 487.71,1349.13 494.53,1344.34 501.36,1339.64 508.18,1334.96 515,1330.32 521.82,1325.74 528.65,1321.21 535.47,1316.69 542.29,1312.17 549.11,1307.65 555.94,1303.13 562.76,1298.61 569.58,1293.95 576.4,1288.9 583.22,1283.69 590.05,1278.59 596.87,1274.15 603.69,1270.65 610.51,1267.11 617.34,1262.66 624.16,1257.87 630.98,1253.07 637.8,1248.36 644.63,1243.89 651.45,1239.52 658.27,1235.15 665.09,1230.89 671.91,1226.9 678.74,1222.86 685.56,1218.42 692.38,1213.82 699.2,1209.15 706.03,1204.22 712.85,1199.08 719.67,1193.91 726.49,1188.96 733.32,1184.48 740.14,1180.15 746.96,1175.84" fill="none" stroke="#9a0f9a" stroke-width="2.6" stroke-linejoin="round" stroke-linecap="butt"/>
<polyline points="126.13,1574.6 132.95,1535.24 139.78,1537.31 146.6,1538.7 153.42,1539.35 160.24,1538.27 167.06,1535.13 173.89,1531.43 180.71,1527.75 187.53,1524.08 194.35,1520.87 201.18,1517.94 208,1513.69 214.82,1509.1 221.64,1504.87 228.47,1500.9 235.29,1497.07 242.11,1493.18 248.93,1489.06 255.75,1484.75 262.58,1480.97 269.4,1478.26 276.22,1474.43 283.04,1470.21 289.87,1465.98 296.69,1461.56 303.51,1456.96 310.33,1452.26 317.16,1447.4 323.98,1442.45 330.8,1437.56 337.62,1432.91 344.44,1429.16 351.27,1426.86 358.09,1422.85 364.91,1417.97 371.73,1413.06 378.56,1408.24 385.38,1403.76 392.2,1399.7 399.02,1395.75 405.85,1391.55 412.67,1386.64 419.49,1381.48 426.31,1376.38 433.13,1371.58 439.96,1367.07 446.78,1362.66 453.6,1358.29 460.42,1354 467.25,1349.71 474.07,1345.27 480.89,1340.36 487.71,1335.29 494.53,1330.25 501.36,1325.28 508.18,1320.36 515,1315.46 521.82,1310.64 528.65,1305.86 535.47,1301.09 542.29,1296.33 549.11,1291.56 555.94,1286.8 562.76,1282.03 569.58,1277.12 576.4,1271.8 583.22,1266.3 590.05,1260.93 596.87,1256.25 603.69,1252.56 610.51,1248.83 617.34,1244.13 624.16,1239.08 630.98,1234.02 637.8,1229.06 644.63,1224.35 651.45,1219.74 658.27,1215.14 665.09,1210.64 671.91,1206.43 678.74,1202.18 685.56,1197.49 692.38,1192.65 699.2,1187.72 706.03,1182.53 712.85,1177.11 719.67,1171.67 726.49,1166.44 733.32,1161.72 740.14,1157.16 746.96,1152.61" fill="none" stroke="#f000f0" stroke-width="2.6" stroke-linejoin="round" stroke-linecap="butt"/>
<rect x="64.73" y="1149.5" width="682.23" height="455" fill="none" stroke="#5a5a5a" stroke-width="1.2"/>
<path d="M132.95 1604.5v-7M132.95 1149.5v7M201.18 1604.5v-7M201.18 1149.5v7M269.4 1604.5v-7M269.4 1149.5v7M337.62 1604.5v-7M337.62 1149.5v7M405.85 1604.5v-7M405.85 1149.5v7M474.07 1604.5v-7M474.07 1149.5v7M542.29 1604.5v-7M542.29 1149.5v7M610.51 1604.5v-7M610.51 1149.5v7M678.74 1604.5v-7M678.74 1149.5v7M64.73 1559h7M746.96 1559h-7M64.73 1513.5h7M746.96 1513.5h-7M64.73 1468h7M746.96 1468h-7M64.73 1422.5h7M746.96 1422.5h-7M64.73 1377h7M746.96 1377h-7M64.73 1331.5h7M746.96 1331.5h-7M64.73 1286h7M746.96 1286h-7M64.73 1240.5h7M746.96 1240.5h-7M64.73 1195h7M746.96 1195h-7" stroke="#5a5a5a" stroke-width="1.2" fill="none"/>
<text x="64.73" y="1624" text-anchor="middle" class="tk">0</text>
<text x="132.95" y="1624" text-anchor="middle" class="tk">10</text>
<text x="201.18" y="1624" text-anchor="middle" class="tk">20</text>
<text x="269.4" y="1624" text-anchor="middle" class="tk">30</text>
<text x="337.62" y="1624" text-anchor="middle" class="tk">40</text>
<text x="405.85" y="1624" text-anchor="middle" class="tk">50</text>
<text x="474.07" y="1624" text-anchor="middle" class="tk">60</text>
<text x="542.29" y="1624" text-anchor="middle" class="tk">70</text>
<text x="610.51" y="1624" text-anchor="middle" class="tk">80</text>
<text x="678.74" y="1624" text-anchor="middle" class="tk">90</text>
<text x="746.96" y="1624" text-anchor="middle" class="tk">100</text>
<text x="58.23" y="1609.6" text-anchor="end" class="tk">0</text>
<text x="58.23" y="1564.1" text-anchor="end" class="tk">5</text>
<text x="58.23" y="1518.6" text-anchor="end" class="tk">10</text>
<text x="58.23" y="1473.1" text-anchor="end" class="tk">15</text>
<text x="58.23" y="1427.6" text-anchor="end" class="tk">20</text>
<text x="58.23" y="1382.1" text-anchor="end" class="tk">25</text>
<text x="58.23" y="1336.6" text-anchor="end" class="tk">30</text>
<text x="58.23" y="1291.1" text-anchor="end" class="tk">35</text>
<text x="58.23" y="1245.6" text-anchor="end" class="tk">40</text>
<text x="58.23" y="1200.1" text-anchor="end" class="tk">45</text>
<text x="58.23" y="1154.6" text-anchor="end" class="tk">50</text>
<text x="405.85" y="1641.3" text-anchor="middle" class="al">T/ time steps</text>
<text transform="translate(38.4 1377) rotate(-90)" text-anchor="middle" class="al">REQ(EE,T)</text>
<rect x="88.6" y="1168.6" width="103.8" height="209" fill="#fff" stroke="#6a6a6a" stroke-width="1.2"/>
<path d="M88.6 1206.6H192.4" stroke="#6a6a6a" stroke-width="1.2"/>
<text x="140.5" y="1183.5" text-anchor="middle" class="lt">Spiking-LeNet-5</text>
<text x="140.5" y="1201.1" text-anchor="middle" class="lt">max 0b analog</text>
<path d="M96.9 1217.3H123.9" stroke="#8f3a0c" stroke-width="2.6"/>
<text x="127" y="1221.7" class="le">EE=1e-02</text>
<path d="M96.9 1234.2H123.9" stroke="#e01515" stroke-width="2.6"/>
<text x="127" y="1238.6" class="le">EE=1e-03</text>
<path d="M96.9 1251.1H123.9" stroke="#e5ab2b" stroke-width="2.6"/>
<text x="127" y="1255.5" class="le">EE=1e-04</text>
<path d="M96.9 1268H123.9" stroke="#f1d91a" stroke-width="2.6"/>
<text x="127" y="1272.4" class="le">EE=1e-05</text>
<path d="M96.9 1284.9H123.9" stroke="#77ac30" stroke-width="2.6"/>
<text x="127" y="1289.3" class="le">EE=1e-06</text>
<path d="M96.9 1301.8H123.9" stroke="#4dbeee" stroke-width="2.6"/>
<text x="127" y="1306.2" class="le">EE=1e-07</text>
<path d="M96.9 1318.7H123.9" stroke="#0e6fae" stroke-width="2.6"/>
<text x="127" y="1323.1" class="le">EE=1e-08</text>
<path d="M96.9 1335.6H123.9" stroke="#0000cc" stroke-width="2.6"/>
<text x="127" y="1340" class="le">EE=1e-09</text>
<path d="M96.9 1352.5H123.9" stroke="#9a0f9a" stroke-width="2.6"/>
<text x="127" y="1356.9" class="le">EE=1e-10</text>
<path d="M96.9 1369.4H123.9" stroke="#f000f0" stroke-width="2.6"/>
<text x="127" y="1373.8" class="le">EE=1e-11</text>
<text x="4.9" y="1123.6" class="pl">C</text>
<path d="M211.5 1133.2H221" stroke="#9a9a9a" stroke-width="1"/>
<path d="M622 1125.6H628.5" stroke="#777" stroke-width="1.2"/>
<rect x="360" y="1089.6" width="100" height="8" fill="#fff"/>
</svg>
</body></html>
